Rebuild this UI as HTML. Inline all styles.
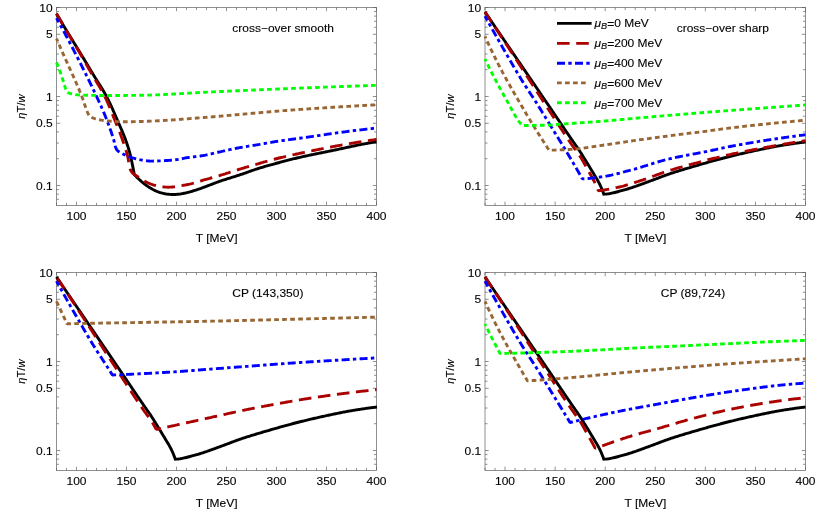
<!DOCTYPE html>
<html><head><meta charset="utf-8"><title>chart</title>
<style>html,body{margin:0;padding:0;background:#fff;font-family:"Liberation Sans",sans-serif;}svg{display:block;will-change:transform;} text{font-family:"Liberation Sans",sans-serif;stroke:#000;stroke-width:0.12px;}</style></head>
<body>
<svg width="830" height="514" viewBox="0 0 830 514" font-family="Liberation Sans, sans-serif" font-size="12.00" fill="#000">
<rect width="830" height="514" fill="#fff"/>
<clipPath id="c1"><rect x="54.50" y="5.50" width="324.00" height="201.90"/></clipPath>
<path d="M56.50 205.40v-2.50M56.50 7.50v2.50M66.50 205.40v-2.50M66.50 7.50v2.50M76.50 205.40v-3.70M76.50 7.50v3.70M86.50 205.40v-2.50M86.50 7.50v2.50M96.50 205.40v-2.50M96.50 7.50v2.50M106.50 205.40v-2.50M106.50 7.50v2.50M116.50 205.40v-2.50M116.50 7.50v2.50M126.50 205.40v-3.70M126.50 7.50v3.70M136.50 205.40v-2.50M136.50 7.50v2.50M146.50 205.40v-2.50M146.50 7.50v2.50M156.50 205.40v-2.50M156.50 7.50v2.50M166.50 205.40v-2.50M166.50 7.50v2.50M176.50 205.40v-3.70M176.50 7.50v3.70M186.50 205.40v-2.50M186.50 7.50v2.50M196.50 205.40v-2.50M196.50 7.50v2.50M206.50 205.40v-2.50M206.50 7.50v2.50M216.50 205.40v-2.50M216.50 7.50v2.50M226.50 205.40v-3.70M226.50 7.50v3.70M236.50 205.40v-2.50M236.50 7.50v2.50M246.50 205.40v-2.50M246.50 7.50v2.50M256.50 205.40v-2.50M256.50 7.50v2.50M266.50 205.40v-2.50M266.50 7.50v2.50M276.50 205.40v-3.70M276.50 7.50v3.70M286.50 205.40v-2.50M286.50 7.50v2.50M296.50 205.40v-2.50M296.50 7.50v2.50M306.50 205.40v-2.50M306.50 7.50v2.50M316.50 205.40v-2.50M316.50 7.50v2.50M326.50 205.40v-3.70M326.50 7.50v3.70M336.50 205.40v-2.50M336.50 7.50v2.50M346.50 205.40v-2.50M346.50 7.50v2.50M356.50 205.40v-2.50M356.50 7.50v2.50M366.50 205.40v-2.50M366.50 7.50v2.50M376.50 205.40v-3.70M376.50 7.50v3.70M56.50 7.50h3.70M376.50 7.50h-3.70M56.50 11.57h2.50M376.50 11.57h-2.50M56.50 16.12h2.50M376.50 16.12h-2.50M56.50 21.29h2.50M376.50 21.29h-2.50M56.50 27.24h2.50M376.50 27.24h-2.50M56.50 34.29h3.70M376.50 34.29h-3.70M56.50 42.92h2.50M376.50 42.92h-2.50M56.50 54.04h2.50M376.50 54.04h-2.50M56.50 69.71h2.50M376.50 69.71h-2.50M56.50 96.50h3.70M376.50 96.50h-3.70M56.50 100.57h2.50M376.50 100.57h-2.50M56.50 105.12h2.50M376.50 105.12h-2.50M56.50 110.29h2.50M376.50 110.29h-2.50M56.50 116.24h2.50M376.50 116.24h-2.50M56.50 123.29h3.70M376.50 123.29h-3.70M56.50 131.92h2.50M376.50 131.92h-2.50M56.50 143.04h2.50M376.50 143.04h-2.50M56.50 158.71h2.50M376.50 158.71h-2.50M56.50 185.50h3.70M376.50 185.50h-3.70M56.50 189.57h2.50M376.50 189.57h-2.50M56.50 194.12h2.50M376.50 194.12h-2.50M56.50 199.29h2.50M376.50 199.29h-2.50" stroke="#606060" stroke-width="0.7" fill="none"/>
<rect x="56.50" y="7.50" width="320.00" height="197.90" fill="none" stroke="#606060" stroke-width="0.7"/>
<text transform="translate(76.50 220.00) scale(1 0.930)" text-anchor="middle">100</text>
<text transform="translate(126.50 220.00) scale(1 0.930)" text-anchor="middle">150</text>
<text transform="translate(176.50 220.00) scale(1 0.930)" text-anchor="middle">200</text>
<text transform="translate(226.50 220.00) scale(1 0.930)" text-anchor="middle">250</text>
<text transform="translate(276.50 220.00) scale(1 0.930)" text-anchor="middle">300</text>
<text transform="translate(326.50 220.00) scale(1 0.930)" text-anchor="middle">350</text>
<text transform="translate(376.50 220.00) scale(1 0.930)" text-anchor="middle">400</text>
<text transform="translate(52.65 11.50) scale(1 0.930)" text-anchor="end">10</text>
<text transform="translate(52.65 38.29) scale(1 0.930)" text-anchor="end">5</text>
<text transform="translate(52.65 100.50) scale(1 0.930)" text-anchor="end">1</text>
<text transform="translate(52.65 127.29) scale(1 0.930)" text-anchor="end">0.5</text>
<text transform="translate(52.65 189.50) scale(1 0.930)" text-anchor="end">0.1</text>
<text transform="translate(216.70 241.50) scale(1 0.930)" text-anchor="middle">T [MeV]</text>
<text transform="translate(25.40 106.65) rotate(-90)" text-anchor="middle" font-size="11.2"><tspan font-style="italic">η</tspan>T/<tspan font-style="italic">w</tspan></text>
<g clip-path="url(#c1)">
<path d="M56.50 13.80 L57.01 14.67 L57.52 15.53 L58.03 16.40 L58.54 17.26 L59.05 18.13 L59.56 18.99 L60.07 19.86 L60.58 20.72 L61.10 21.58 L61.61 22.45 L62.13 23.31 L62.64 24.17 L63.16 25.03 L63.67 25.90 L64.19 26.76 L64.71 27.62 L65.22 28.48 L65.74 29.34 L66.26 30.20 L66.79 31.06 L67.31 31.91 L67.83 32.77 L68.35 33.63 L68.88 34.48 L69.41 35.34 L69.93 36.20 L70.46 37.05 L70.99 37.91 L71.51 38.76 L72.04 39.61 L72.57 40.47 L73.10 41.32 L73.63 42.18 L74.16 43.03 L74.68 43.89 L75.21 44.74 L75.74 45.59 L76.27 46.45 L76.80 47.30 L77.32 48.16 L77.85 49.02 L78.37 49.87 L78.90 50.73 L79.42 51.59 L79.94 52.44 L80.47 53.30 L80.99 54.16 L81.51 55.02 L82.03 55.88 L82.55 56.74 L83.06 57.60 L83.58 58.46 L84.10 59.32 L84.62 60.18 L85.14 61.04 L85.65 61.90 L86.17 62.76 L86.69 63.62 L87.20 64.49 L87.72 65.35 L88.24 66.21 L88.75 67.07 L89.27 67.93 L89.79 68.79 L90.30 69.65 L90.82 70.51 L91.34 71.38 L91.86 72.24 L92.37 73.10 L92.89 73.96 L93.41 74.82 L93.94 75.67 L94.46 76.53 L94.99 77.39 L95.53 78.24 L96.06 79.09 L96.60 79.94 L97.14 80.79 L97.67 81.65 L98.21 82.50 L98.75 83.35 L99.29 84.20 L99.82 85.05 L100.36 85.90 L100.89 86.76 L101.42 87.61 L101.94 88.47 L102.46 89.33 L102.98 90.19 L103.49 91.05 L104.00 91.92 L104.50 92.79 L104.99 93.66 L105.48 94.53 L105.96 95.41 L106.43 96.29 L106.90 97.18 L107.35 98.07 L107.81 98.96 L108.25 99.86 L108.70 100.76 L109.13 101.66 L109.57 102.56 L110.00 103.47 L110.42 104.38 L110.84 105.29 L111.26 106.21 L111.68 107.12 L112.09 108.04 L112.50 108.96 L112.91 109.88 L113.31 110.80 L113.71 111.72 L114.12 112.65 L114.52 113.57 L114.92 114.49 L115.32 115.42 L115.72 116.34 L116.12 117.26 L116.52 118.19 L116.92 119.11 L117.32 120.03 L117.72 120.95 L118.12 121.87 L118.53 122.79 L118.93 123.71 L119.34 124.63 L119.74 125.55 L120.14 126.47 L120.54 127.40 L120.95 128.32 L121.34 129.24 L121.74 130.17 L122.13 131.10 L122.52 132.02 L122.91 132.95 L123.29 133.88 L123.67 134.81 L124.04 135.74 L124.41 136.68 L124.77 137.61 L125.13 138.55 L125.47 139.49 L125.82 140.43 L126.15 141.38 L126.48 142.32 L126.80 143.27 L127.12 144.22 L127.44 145.18 L127.75 146.13 L128.06 147.09 L128.36 148.05 L128.65 149.01 L128.94 149.98 L129.22 150.95 L129.49 151.91 L129.75 152.88 L130.01 153.85 L130.26 154.82 L130.49 155.80 L130.73 156.77 L130.95 157.75 L131.17 158.73 L131.38 159.71 L131.59 160.70 L131.79 161.68 L132.00 162.66 L132.20 163.65 L132.39 164.64 L132.59 165.62 L132.78 166.61 L132.98 167.59 L133.18 168.58 L133.37 169.56 L133.56 170.55 L133.75 171.54 L133.93 172.52 L134.12 173.51 L134.30 174.50 L134.98 175.24 L135.67 175.96 L136.37 176.69 L137.07 177.40 L137.78 178.11 L138.50 178.80 L139.23 179.49 L139.96 180.17 L140.71 180.85 L141.46 181.51 L142.22 182.16 L142.99 182.81 L143.77 183.44 L144.56 184.06 L145.35 184.67 L146.16 185.26 L146.98 185.84 L147.81 186.40 L148.64 186.96 L149.49 187.50 L150.35 188.03 L151.21 188.53 L152.08 189.02 L152.96 189.51 L153.85 189.97 L154.75 190.42 L155.66 190.84 L156.58 191.23 L157.51 191.60 L158.45 191.94 L159.40 192.27 L160.36 192.58 L161.32 192.85 L162.29 193.11 L163.26 193.36 L164.24 193.59 L165.23 193.80 L166.21 193.96 L167.20 194.09 L168.20 194.20 L169.20 194.31 L170.20 194.39 L171.20 194.46 L172.20 194.50 L173.20 194.50 L174.21 194.48 L175.21 194.44 L176.21 194.38 L177.21 194.31 L178.21 194.23 L179.21 194.13 L180.20 194.00 L181.19 193.84 L182.18 193.66 L183.16 193.47 L184.15 193.27 L185.13 193.07 L186.10 192.85 L187.08 192.61 L188.05 192.36 L189.02 192.10 L189.99 191.83 L190.95 191.56 L191.91 191.28 L192.88 191.00 L193.83 190.71 L194.79 190.41 L195.75 190.11 L196.70 189.80 L197.65 189.48 L198.60 189.16 L199.55 188.84 L200.50 188.51 L201.44 188.17 L202.38 187.83 L203.32 187.48 L204.26 187.13 L205.20 186.78 L206.14 186.43 L207.08 186.08 L208.02 185.73 L208.96 185.37 L209.89 185.01 L210.83 184.65 L211.76 184.29 L212.70 183.92 L213.63 183.56 L214.57 183.20 L215.50 182.84 L216.44 182.49 L217.38 182.14 L218.32 181.80 L219.26 181.46 L220.21 181.13 L221.16 180.80 L222.11 180.49 L223.06 180.17 L224.01 179.86 L224.97 179.56 L225.92 179.26 L226.88 178.96 L227.84 178.66 L228.80 178.37 L229.75 178.07 L230.71 177.78 L231.67 177.48 L232.63 177.19 L233.59 176.89 L234.55 176.60 L235.50 176.30 L236.46 175.99 L237.41 175.69 L238.37 175.38 L239.32 175.06 L240.27 174.74 L241.22 174.42 L242.16 174.09 L243.11 173.76 L244.06 173.43 L245.00 173.09 L245.95 172.76 L246.89 172.42 L247.84 172.08 L248.78 171.74 L249.72 171.41 L250.67 171.07 L251.62 170.74 L252.56 170.41 L253.51 170.08 L254.46 169.75 L255.41 169.43 L256.36 169.12 L257.31 168.81 L258.26 168.50 L259.22 168.20 L260.17 167.91 L261.13 167.61 L262.09 167.32 L263.05 167.04 L264.01 166.75 L264.97 166.47 L265.94 166.19 L266.90 165.92 L267.87 165.64 L268.83 165.37 L269.80 165.10 L270.76 164.83 L271.73 164.57 L272.70 164.30 L273.67 164.04 L274.63 163.78 L275.60 163.52 L276.57 163.26 L277.54 163.00 L278.51 162.74 L279.47 162.48 L280.44 162.22 L281.41 161.97 L282.38 161.71 L283.35 161.45 L284.32 161.20 L285.29 160.94 L286.26 160.69 L287.23 160.44 L288.20 160.18 L289.17 159.93 L290.14 159.69 L291.11 159.44 L292.09 159.20 L293.06 158.95 L294.03 158.71 L295.01 158.48 L295.98 158.24 L296.96 158.01 L297.93 157.78 L298.91 157.55 L299.88 157.33 L300.86 157.11 L301.84 156.89 L302.81 156.67 L303.79 156.45 L304.77 156.24 L305.75 156.02 L306.73 155.81 L307.71 155.60 L308.69 155.39 L309.67 155.19 L310.65 154.98 L311.63 154.78 L312.61 154.57 L313.59 154.37 L314.57 154.17 L315.56 153.96 L316.54 153.76 L317.52 153.56 L318.50 153.36 L319.49 153.16 L320.47 152.96 L321.45 152.77 L322.43 152.57 L323.42 152.37 L324.40 152.17 L325.38 151.97 L326.37 151.77 L327.35 151.57 L328.33 151.38 L329.31 151.18 L330.30 150.98 L331.28 150.78 L332.26 150.58 L333.24 150.38 L334.23 150.17 L335.21 149.97 L336.19 149.77 L337.17 149.56 L338.15 149.36 L339.13 149.15 L340.11 148.94 L341.09 148.73 L342.07 148.52 L343.05 148.31 L344.03 148.09 L345.01 147.88 L345.99 147.66 L346.97 147.45 L347.95 147.23 L348.93 147.02 L349.91 146.80 L350.89 146.59 L351.87 146.38 L352.85 146.17 L353.83 145.96 L354.81 145.75 L355.79 145.55 L356.77 145.34 L357.75 145.14 L358.74 144.95 L359.72 144.75 L360.70 144.56 L361.69 144.38 L362.67 144.19 L363.66 144.00 L364.64 143.82 L365.63 143.64 L366.61 143.46 L367.60 143.28 L368.59 143.11 L369.58 142.94 L370.56 142.77 L371.55 142.60 L372.54 142.43 L373.53 142.27 L374.52 142.11 L375.51 141.95 L376.50 141.80" fill="none" stroke="#000000" stroke-width="2.90" stroke-linejoin="miter"/>
<path d="M56.50 13.50 L57.00 14.37 L57.50 15.24 L58.00 16.11 L58.50 16.97 L59.00 17.84 L59.50 18.71 L60.00 19.58 L60.51 20.44 L61.01 21.31 L61.51 22.18 L62.02 23.04 L62.52 23.91 L63.03 24.77 L63.53 25.64 L64.04 26.50 L64.54 27.37 L65.05 28.23 L65.56 29.10 L66.07 29.96 L66.58 30.82 L67.09 31.69 L67.60 32.55 L68.11 33.41 L68.62 34.27 L69.14 35.13 L69.65 35.99 L70.17 36.85 L70.68 37.71 L71.20 38.57 L71.71 39.43 L72.23 40.28 L72.75 41.14 L73.26 42.00 L73.78 42.86 L74.29 43.72 L74.81 44.58 L75.32 45.44 L75.84 46.30 L76.35 47.16 L76.86 48.02 L77.37 48.89 L77.88 49.75 L78.39 50.61 L78.90 51.47 L79.41 52.34 L79.91 53.20 L80.41 54.07 L80.92 54.94 L81.42 55.80 L81.92 56.67 L82.42 57.54 L82.92 58.41 L83.42 59.28 L83.92 60.15 L84.41 61.02 L84.91 61.89 L85.41 62.76 L85.90 63.63 L86.40 64.50 L86.90 65.37 L87.39 66.24 L87.89 67.11 L88.38 67.98 L88.88 68.85 L89.38 69.72 L89.87 70.59 L90.37 71.46 L90.87 72.33 L91.37 73.20 L91.87 74.07 L92.37 74.94 L92.87 75.80 L93.38 76.67 L93.90 77.53 L94.41 78.39 L94.93 79.25 L95.45 80.11 L95.98 80.97 L96.50 81.83 L97.02 82.69 L97.54 83.54 L98.06 84.40 L98.58 85.26 L99.10 86.12 L99.61 86.99 L100.12 87.85 L100.63 88.72 L101.13 89.58 L101.63 90.45 L102.12 91.32 L102.61 92.20 L103.08 93.08 L103.55 93.96 L104.02 94.84 L104.47 95.73 L104.91 96.62 L105.35 97.52 L105.78 98.42 L106.20 99.32 L106.61 100.23 L107.02 101.14 L107.43 102.06 L107.82 102.98 L108.22 103.90 L108.61 104.82 L109.00 105.75 L109.38 106.67 L109.76 107.60 L110.14 108.53 L110.52 109.47 L110.89 110.40 L111.26 111.33 L111.64 112.26 L112.01 113.20 L112.38 114.13 L112.75 115.06 L113.13 115.99 L113.50 116.92 L113.88 117.85 L114.26 118.78 L114.64 119.71 L115.02 120.63 L115.40 121.56 L115.78 122.49 L116.16 123.42 L116.54 124.34 L116.93 125.27 L117.31 126.20 L117.68 127.13 L118.06 128.06 L118.43 128.99 L118.80 129.92 L119.17 130.85 L119.53 131.79 L119.89 132.72 L120.25 133.66 L120.60 134.59 L120.94 135.53 L121.28 136.47 L121.62 137.42 L121.95 138.36 L122.29 139.31 L122.63 140.25 L122.96 141.20 L123.29 142.14 L123.63 143.09 L123.95 144.04 L124.28 144.99 L124.60 145.95 L124.92 146.90 L125.23 147.85 L125.54 148.81 L125.83 149.77 L126.13 150.73 L126.41 151.69 L126.69 152.65 L126.96 153.61 L127.22 154.58 L127.46 155.54 L127.70 156.51 L127.92 157.49 L128.12 158.48 L128.29 159.48 L128.46 160.49 L128.61 161.50 L128.77 162.50 L128.92 163.51 L129.09 164.51 L129.27 165.50 L129.46 166.47 L129.69 167.43 L129.94 168.37 L130.23 169.29 L130.61 170.20 L131.10 171.11 L131.67 171.97 L132.29 172.76 L132.95 173.44 L133.74 174.04 L134.60 174.60 L135.47 175.15 L136.31 175.71 L137.13 176.28 L137.96 176.86 L138.78 177.44 L139.61 178.02 L140.44 178.59 L141.28 179.15 L142.12 179.69 L142.97 180.22 L143.83 180.72 L144.71 181.20 L145.59 181.64 L146.48 182.08 L147.39 182.52 L148.31 182.95 L149.23 183.36 L150.17 183.76 L151.11 184.13 L152.06 184.47 L153.01 184.78 L153.96 185.05 L154.92 185.27 L155.89 185.49 L156.86 185.70 L157.84 185.91 L158.83 186.11 L159.82 186.30 L160.82 186.48 L161.82 186.64 L162.82 186.79 L163.82 186.92 L164.83 187.03 L165.83 187.11 L166.82 187.17 L167.82 187.20 L168.81 187.20 L169.81 187.17 L170.80 187.12 L171.80 187.05 L172.80 186.97 L173.79 186.87 L174.79 186.75 L175.79 186.62 L176.78 186.47 L177.78 186.32 L178.78 186.15 L179.77 185.98 L180.77 185.80 L181.76 185.62 L182.75 185.44 L183.74 185.25 L184.72 185.07 L185.71 184.88 L186.69 184.70 L187.67 184.52 L188.64 184.31 L189.61 184.10 L190.59 183.87 L191.56 183.62 L192.52 183.37 L193.49 183.10 L194.45 182.83 L195.42 182.55 L196.38 182.26 L197.34 181.97 L198.31 181.68 L199.27 181.38 L200.23 181.09 L201.19 180.79 L202.15 180.49 L203.11 180.20 L204.07 179.91 L205.04 179.63 L206.00 179.36 L206.97 179.09 L207.93 178.82 L208.90 178.55 L209.86 178.28 L210.83 178.01 L211.79 177.75 L212.76 177.48 L213.73 177.21 L214.69 176.94 L215.65 176.66 L216.62 176.39 L217.58 176.11 L218.54 175.83 L219.50 175.55 L220.46 175.26 L221.42 174.97 L222.38 174.68 L223.34 174.38 L224.29 174.08 L225.25 173.78 L226.20 173.47 L227.15 173.16 L228.11 172.85 L229.06 172.54 L230.01 172.23 L230.97 171.92 L231.92 171.61 L232.87 171.31 L233.83 171.00 L234.78 170.69 L235.74 170.39 L236.69 170.09 L237.65 169.79 L238.61 169.49 L239.56 169.20 L240.52 168.91 L241.48 168.61 L242.44 168.32 L243.40 168.03 L244.36 167.75 L245.32 167.46 L246.28 167.17 L247.24 166.89 L248.20 166.60 L249.16 166.32 L250.12 166.03 L251.08 165.75 L252.05 165.47 L253.01 165.19 L253.97 164.91 L254.93 164.63 L255.90 164.36 L256.86 164.08 L257.82 163.81 L258.79 163.53 L259.75 163.26 L260.71 162.98 L261.68 162.71 L262.64 162.44 L263.61 162.16 L264.57 161.89 L265.54 161.62 L266.50 161.35 L267.47 161.08 L268.43 160.81 L269.40 160.54 L270.36 160.27 L271.33 160.01 L272.30 159.75 L273.27 159.49 L274.24 159.24 L275.21 158.98 L276.18 158.73 L277.15 158.49 L278.12 158.25 L279.09 158.01 L280.06 157.77 L281.04 157.53 L282.01 157.30 L282.99 157.07 L283.96 156.84 L284.94 156.62 L285.91 156.39 L286.89 156.17 L287.87 155.95 L288.85 155.73 L289.83 155.51 L290.80 155.29 L291.78 155.08 L292.76 154.86 L293.74 154.65 L294.72 154.44 L295.70 154.22 L296.68 154.01 L297.66 153.80 L298.64 153.59 L299.62 153.38 L300.60 153.17 L301.58 152.96 L302.56 152.75 L303.54 152.55 L304.52 152.34 L305.50 152.13 L306.48 151.93 L307.46 151.72 L308.44 151.51 L309.42 151.31 L310.40 151.10 L311.38 150.90 L312.37 150.70 L313.35 150.49 L314.33 150.29 L315.31 150.09 L316.29 149.89 L317.27 149.69 L318.26 149.49 L319.24 149.29 L320.22 149.09 L321.20 148.90 L322.19 148.70 L323.17 148.51 L324.15 148.31 L325.14 148.12 L326.12 147.92 L327.10 147.73 L328.09 147.54 L329.07 147.35 L330.05 147.16 L331.04 146.97 L332.02 146.78 L333.01 146.60 L333.99 146.41 L334.98 146.23 L335.96 146.04 L336.95 145.86 L337.93 145.68 L338.92 145.50 L339.90 145.32 L340.89 145.14 L341.87 144.96 L342.86 144.79 L343.85 144.61 L344.83 144.44 L345.82 144.26 L346.81 144.09 L347.80 143.92 L348.78 143.75 L349.77 143.59 L350.76 143.42 L351.75 143.25 L352.74 143.09 L353.72 142.92 L354.71 142.76 L355.70 142.60 L356.69 142.43 L357.68 142.27 L358.67 142.11 L359.66 141.95 L360.65 141.80 L361.64 141.64 L362.63 141.48 L363.62 141.33 L364.61 141.17 L365.60 141.02 L366.59 140.87 L367.58 140.72 L368.57 140.57 L369.56 140.42 L370.55 140.27 L371.54 140.12 L372.53 139.98 L373.52 139.83 L374.52 139.69 L375.51 139.54 L376.50 139.40" fill="none" stroke="#aa0000" stroke-width="2.90" stroke-linejoin="bevel" stroke-dasharray="12.6 6.6"/>
<path d="M56.50 18.10 L56.99 18.98 L57.47 19.85 L57.95 20.73 L58.44 21.61 L58.92 22.49 L59.40 23.37 L59.89 24.25 L60.37 25.13 L60.85 26.01 L61.33 26.89 L61.81 27.77 L62.28 28.65 L62.76 29.53 L63.24 30.41 L63.72 31.29 L64.19 32.17 L64.67 33.06 L65.14 33.94 L65.62 34.82 L66.09 35.71 L66.56 36.59 L67.03 37.47 L67.50 38.36 L67.97 39.24 L68.44 40.13 L68.91 41.02 L69.38 41.90 L69.85 42.79 L70.31 43.68 L70.78 44.56 L71.24 45.45 L71.70 46.34 L72.17 47.23 L72.63 48.12 L73.09 49.01 L73.55 49.90 L74.01 50.79 L74.46 51.68 L74.92 52.57 L75.38 53.46 L75.84 54.35 L76.30 55.24 L76.75 56.14 L77.21 57.03 L77.67 57.92 L78.12 58.81 L78.58 59.71 L79.03 60.60 L79.49 61.49 L79.94 62.39 L80.40 63.28 L80.85 64.17 L81.30 65.07 L81.75 65.96 L82.21 66.86 L82.66 67.75 L83.11 68.65 L83.56 69.55 L84.00 70.44 L84.45 71.34 L84.90 72.24 L85.35 73.14 L85.79 74.03 L86.24 74.93 L86.68 75.83 L87.13 76.73 L87.57 77.63 L88.01 78.53 L88.45 79.43 L88.89 80.33 L89.33 81.23 L89.77 82.13 L90.21 83.03 L90.65 83.94 L91.08 84.84 L91.52 85.74 L91.95 86.64 L92.38 87.55 L92.82 88.45 L93.25 89.36 L93.68 90.26 L94.10 91.17 L94.53 92.07 L94.96 92.98 L95.38 93.89 L95.81 94.80 L96.23 95.70 L96.65 96.61 L97.07 97.52 L97.49 98.43 L97.91 99.34 L98.33 100.25 L98.75 101.16 L99.17 102.07 L99.59 102.98 L100.00 103.90 L100.42 104.81 L100.83 105.72 L101.25 106.64 L101.66 107.55 L102.06 108.47 L102.47 109.39 L102.87 110.31 L103.27 111.23 L103.66 112.15 L104.05 113.07 L104.43 114.00 L104.81 114.92 L105.19 115.85 L105.56 116.78 L105.92 117.71 L106.28 118.65 L106.65 119.58 L107.01 120.51 L107.37 121.45 L107.72 122.39 L108.08 123.33 L108.43 124.27 L108.78 125.21 L109.13 126.15 L109.47 127.09 L109.82 128.04 L110.15 128.98 L110.49 129.93 L110.82 130.88 L111.15 131.83 L111.47 132.78 L111.78 133.73 L112.10 134.68 L112.40 135.64 L112.71 136.59 L113.00 137.55 L113.29 138.51 L113.58 139.47 L113.85 140.43 L114.12 141.39 L114.37 142.36 L114.59 143.35 L114.80 144.33 L115.02 145.31 L115.27 146.28 L115.58 147.22 L115.94 148.18 L116.38 149.11 L116.89 149.95 L117.52 150.66 L118.31 151.30 L119.17 151.88 L120.01 152.42 L120.87 152.92 L121.76 153.39 L122.66 153.84 L123.57 154.27 L124.49 154.68 L125.40 155.09 L126.32 155.49 L127.24 155.89 L128.18 156.27 L129.11 156.64 L130.05 156.99 L131.00 157.33 L131.95 157.65 L132.90 157.94 L133.86 158.22 L134.82 158.48 L135.79 158.73 L136.77 158.98 L137.75 159.21 L138.73 159.42 L139.71 159.63 L140.70 159.81 L141.69 159.98 L142.67 160.14 L143.66 160.31 L144.65 160.48 L145.65 160.64 L146.64 160.79 L147.64 160.91 L148.64 161.01 L149.64 161.07 L150.64 161.10 L151.63 161.10 L152.63 161.09 L153.64 161.07 L154.64 161.05 L155.64 161.02 L156.65 160.99 L157.65 160.96 L158.65 160.92 L159.65 160.89 L160.65 160.85 L161.65 160.81 L162.66 160.76 L163.66 160.70 L164.66 160.64 L165.66 160.57 L166.66 160.51 L167.66 160.44 L168.66 160.37 L169.66 160.30 L170.66 160.22 L171.66 160.14 L172.66 160.06 L173.66 159.97 L174.66 159.87 L175.65 159.77 L176.65 159.65 L177.64 159.53 L178.63 159.39 L179.61 159.22 L180.59 159.01 L181.57 158.79 L182.55 158.56 L183.53 158.34 L184.51 158.12 L185.49 157.94 L186.48 157.77 L187.47 157.62 L188.46 157.47 L189.46 157.33 L190.45 157.20 L191.44 157.08 L192.44 156.95 L193.44 156.83 L194.43 156.71 L195.43 156.59 L196.42 156.47 L197.42 156.35 L198.41 156.22 L199.41 156.09 L200.40 155.95 L201.39 155.80 L202.38 155.65 L203.37 155.49 L204.35 155.31 L205.33 155.13 L206.32 154.94 L207.30 154.73 L208.28 154.52 L209.25 154.30 L210.23 154.08 L211.21 153.85 L212.18 153.62 L213.16 153.39 L214.14 153.16 L215.11 152.92 L216.09 152.69 L217.07 152.46 L218.04 152.24 L219.02 152.02 L220.00 151.80 L220.98 151.59 L221.96 151.37 L222.94 151.16 L223.92 150.94 L224.90 150.73 L225.87 150.51 L226.85 150.29 L227.83 150.08 L228.81 149.87 L229.79 149.65 L230.77 149.44 L231.75 149.23 L232.73 149.03 L233.71 148.82 L234.70 148.62 L235.68 148.42 L236.66 148.23 L237.64 148.04 L238.63 147.85 L239.61 147.67 L240.60 147.49 L241.59 147.32 L242.57 147.15 L243.56 146.98 L244.55 146.81 L245.54 146.65 L246.53 146.49 L247.52 146.33 L248.51 146.17 L249.50 146.01 L250.49 145.86 L251.48 145.70 L252.47 145.55 L253.46 145.39 L254.45 145.23 L255.44 145.07 L256.43 144.91 L257.42 144.75 L258.40 144.58 L259.39 144.42 L260.38 144.25 L261.37 144.07 L262.35 143.90 L263.34 143.72 L264.33 143.55 L265.31 143.37 L266.30 143.19 L267.29 143.01 L268.27 142.83 L269.26 142.66 L270.25 142.48 L271.23 142.31 L272.22 142.13 L273.21 141.96 L274.20 141.80 L275.19 141.63 L276.17 141.47 L277.16 141.31 L278.15 141.16 L279.14 141.01 L280.13 140.87 L281.13 140.72 L282.12 140.58 L283.11 140.44 L284.10 140.31 L285.10 140.17 L286.09 140.04 L287.08 139.91 L288.08 139.78 L289.07 139.65 L290.07 139.52 L291.06 139.39 L292.05 139.26 L293.05 139.13 L294.04 139.00 L295.04 138.87 L296.03 138.74 L297.02 138.61 L298.02 138.47 L299.01 138.34 L300.00 138.20 L300.99 138.06 L301.99 137.92 L302.98 137.78 L303.97 137.64 L304.96 137.50 L305.96 137.36 L306.95 137.21 L307.94 137.07 L308.93 136.92 L309.92 136.78 L310.91 136.63 L311.91 136.49 L312.90 136.34 L313.89 136.20 L314.88 136.05 L315.87 135.91 L316.86 135.76 L317.86 135.61 L318.85 135.47 L319.84 135.32 L320.83 135.17 L321.82 135.03 L322.81 134.88 L323.80 134.74 L324.80 134.59 L325.79 134.45 L326.78 134.30 L327.77 134.16 L328.76 134.02 L329.76 133.87 L330.75 133.73 L331.74 133.59 L332.73 133.45 L333.72 133.31 L334.72 133.17 L335.71 133.04 L336.70 132.90 L337.70 132.76 L338.69 132.63 L339.68 132.49 L340.67 132.36 L341.67 132.23 L342.66 132.10 L343.66 131.96 L344.65 131.83 L345.64 131.70 L346.64 131.57 L347.63 131.44 L348.62 131.31 L349.62 131.18 L350.61 131.06 L351.61 130.93 L352.60 130.80 L353.59 130.68 L354.59 130.55 L355.58 130.43 L356.58 130.31 L357.57 130.19 L358.57 130.07 L359.56 129.95 L360.56 129.83 L361.55 129.72 L362.55 129.60 L363.55 129.49 L364.54 129.38 L365.54 129.27 L366.53 129.15 L367.53 129.04 L368.53 128.94 L369.52 128.83 L370.52 128.72 L371.52 128.62 L372.51 128.51 L373.51 128.41 L374.51 128.30 L375.50 128.20 L376.50 128.10" fill="none" stroke="#0000ff" stroke-width="2.90" stroke-linejoin="bevel" stroke-dasharray="8 3.3 3.4 3.3" stroke-dashoffset="3.2"/>
<path d="M56.50 38.60 L56.90 39.52 L57.30 40.44 L57.70 41.36 L58.10 42.27 L58.50 43.19 L58.90 44.11 L59.30 45.03 L59.70 45.95 L60.10 46.86 L60.50 47.78 L60.90 48.70 L61.30 49.62 L61.70 50.54 L62.10 51.46 L62.50 52.37 L62.90 53.29 L63.31 54.21 L63.72 55.12 L64.12 56.04 L64.53 56.95 L64.95 57.87 L65.36 58.78 L65.77 59.69 L66.18 60.61 L66.60 61.52 L67.01 62.43 L67.43 63.35 L67.84 64.26 L68.26 65.17 L68.68 66.08 L69.09 67.00 L69.51 67.91 L69.93 68.82 L70.34 69.73 L70.76 70.65 L71.17 71.56 L71.59 72.47 L72.00 73.38 L72.41 74.30 L72.83 75.21 L73.24 76.13 L73.65 77.04 L74.06 77.96 L74.46 78.87 L74.87 79.79 L75.27 80.70 L75.68 81.62 L76.08 82.54 L76.48 83.46 L76.87 84.38 L77.27 85.30 L77.66 86.22 L78.05 87.14 L78.44 88.06 L78.82 88.99 L79.20 89.91 L79.58 90.84 L79.96 91.76 L80.33 92.69 L80.70 93.62 L81.07 94.55 L81.44 95.48 L81.80 96.41 L82.15 97.35 L82.51 98.28 L82.85 99.22 L83.18 100.17 L83.50 101.12 L83.82 102.07 L84.14 103.02 L84.47 103.96 L84.80 104.91 L85.13 105.85 L85.46 106.81 L85.78 107.76 L86.10 108.72 L86.43 109.67 L86.78 110.61 L87.15 111.54 L87.54 112.45 L87.97 113.35 L88.44 114.26 L88.97 115.13 L89.57 115.88 L90.32 116.52 L91.19 117.09 L92.09 117.55 L92.98 117.92 L93.91 118.26 L94.85 118.57 L95.82 118.86 L96.80 119.13 L97.79 119.37 L98.78 119.60 L99.78 119.80 L100.77 119.99 L101.75 120.16 L102.73 120.32 L103.72 120.48 L104.72 120.62 L105.71 120.75 L106.71 120.87 L107.71 120.98 L108.71 121.06 L109.70 121.14 L110.70 121.20 L111.70 121.27 L112.70 121.34 L113.70 121.40 L114.70 121.46 L115.70 121.52 L116.70 121.57 L117.70 121.62 L118.70 121.66 L119.70 121.70 L120.71 121.74 L121.71 121.76 L122.71 121.78 L123.71 121.80 L124.71 121.80 L125.71 121.80 L126.71 121.79 L127.72 121.78 L128.72 121.77 L129.72 121.76 L130.72 121.74 L131.72 121.72 L132.72 121.70 L133.73 121.67 L134.73 121.65 L135.73 121.62 L136.73 121.60 L137.73 121.57 L138.73 121.54 L139.73 121.51 L140.73 121.49 L141.74 121.46 L142.74 121.43 L143.74 121.40 L144.74 121.37 L145.74 121.33 L146.74 121.29 L147.74 121.26 L148.74 121.22 L149.74 121.17 L150.75 121.13 L151.75 121.09 L152.75 121.04 L153.75 121.00 L154.75 120.95 L155.75 120.90 L156.75 120.86 L157.75 120.81 L158.75 120.76 L159.75 120.71 L160.75 120.65 L161.75 120.60 L162.75 120.54 L163.75 120.48 L164.75 120.42 L165.75 120.36 L166.75 120.30 L167.75 120.23 L168.74 120.17 L169.74 120.10 L170.74 120.04 L171.74 119.97 L172.74 119.90 L173.74 119.83 L174.74 119.75 L175.74 119.68 L176.74 119.61 L177.74 119.53 L178.74 119.46 L179.73 119.38 L180.73 119.31 L181.73 119.23 L182.73 119.15 L183.73 119.07 L184.73 119.00 L185.73 118.92 L186.73 118.84 L187.73 118.76 L188.72 118.68 L189.72 118.60 L190.72 118.52 L191.72 118.45 L192.72 118.37 L193.72 118.29 L194.72 118.21 L195.71 118.13 L196.71 118.05 L197.71 117.98 L198.71 117.90 L199.71 117.82 L200.71 117.75 L201.71 117.67 L202.70 117.59 L203.70 117.51 L204.70 117.44 L205.70 117.36 L206.70 117.28 L207.70 117.20 L208.70 117.12 L209.69 117.04 L210.69 116.95 L211.69 116.87 L212.69 116.79 L213.69 116.71 L214.68 116.63 L215.68 116.54 L216.68 116.46 L217.68 116.37 L218.68 116.29 L219.68 116.20 L220.67 116.12 L221.67 116.03 L222.67 115.95 L223.67 115.86 L224.67 115.78 L225.66 115.69 L226.66 115.60 L227.66 115.52 L228.66 115.43 L229.65 115.34 L230.65 115.25 L231.65 115.17 L232.65 115.08 L233.65 114.99 L234.64 114.90 L235.64 114.81 L236.64 114.72 L237.64 114.64 L238.63 114.55 L239.63 114.46 L240.63 114.37 L241.63 114.28 L242.63 114.19 L243.62 114.10 L244.62 114.01 L245.62 113.92 L246.62 113.83 L247.61 113.75 L248.61 113.66 L249.61 113.57 L250.61 113.48 L251.61 113.39 L252.60 113.30 L253.60 113.21 L254.60 113.13 L255.60 113.04 L256.59 112.95 L257.59 112.86 L258.59 112.77 L259.59 112.69 L260.59 112.60 L261.58 112.51 L262.58 112.42 L263.58 112.34 L264.58 112.25 L265.57 112.17 L266.57 112.08 L267.57 111.99 L268.57 111.91 L269.57 111.82 L270.56 111.74 L271.56 111.65 L272.56 111.57 L273.56 111.49 L274.56 111.40 L275.56 111.32 L276.55 111.24 L277.55 111.16 L278.55 111.08 L279.55 110.99 L280.55 110.91 L281.54 110.83 L282.54 110.75 L283.54 110.67 L284.54 110.60 L285.54 110.52 L286.54 110.44 L287.53 110.36 L288.53 110.29 L289.53 110.21 L290.53 110.14 L291.53 110.06 L292.53 109.99 L293.53 109.91 L294.53 109.84 L295.52 109.77 L296.52 109.70 L297.52 109.63 L298.52 109.56 L299.52 109.49 L300.52 109.42 L301.52 109.35 L302.52 109.28 L303.52 109.21 L304.51 109.14 L305.51 109.07 L306.51 109.00 L307.51 108.93 L308.51 108.87 L309.51 108.80 L310.51 108.73 L311.51 108.66 L312.51 108.60 L313.51 108.53 L314.51 108.46 L315.51 108.40 L316.51 108.33 L317.50 108.26 L318.50 108.20 L319.50 108.13 L320.50 108.07 L321.50 108.00 L322.50 107.94 L323.50 107.87 L324.50 107.81 L325.50 107.74 L326.50 107.68 L327.50 107.62 L328.50 107.55 L329.50 107.49 L330.50 107.43 L331.50 107.36 L332.50 107.30 L333.50 107.24 L334.50 107.18 L335.50 107.12 L336.50 107.05 L337.50 106.99 L338.50 106.93 L339.50 106.87 L340.50 106.81 L341.49 106.75 L342.49 106.69 L343.49 106.63 L344.49 106.57 L345.49 106.51 L346.49 106.45 L347.49 106.39 L348.49 106.33 L349.49 106.28 L350.49 106.22 L351.49 106.16 L352.49 106.10 L353.49 106.05 L354.49 105.99 L355.49 105.93 L356.49 105.87 L357.49 105.82 L358.49 105.76 L359.49 105.71 L360.49 105.65 L361.50 105.60 L362.50 105.54 L363.50 105.49 L364.50 105.43 L365.50 105.38 L366.50 105.32 L367.50 105.27 L368.50 105.22 L369.50 105.16 L370.50 105.11 L371.50 105.06 L372.50 105.01 L373.50 104.95 L374.50 104.90 L375.50 104.85 L376.50 104.80" fill="none" stroke="#996633" stroke-width="2.90" stroke-linejoin="bevel" stroke-dasharray="4.7 3.3" stroke-dashoffset="1.5"/>
<path d="M56.50 62.40 L56.88 63.33 L57.26 64.25 L57.63 65.18 L58.00 66.11 L58.37 67.05 L58.73 67.98 L59.08 68.92 L59.43 69.85 L59.78 70.79 L60.12 71.73 L60.45 72.68 L60.78 73.62 L61.11 74.57 L61.43 75.52 L61.74 76.47 L62.05 77.42 L62.37 78.37 L62.67 79.32 L62.98 80.28 L63.29 81.23 L63.60 82.18 L63.91 83.13 L64.21 84.09 L64.50 85.06 L64.78 86.02 L65.07 86.98 L65.39 87.93 L65.74 88.86 L66.14 89.79 L66.58 90.72 L67.11 91.56 L67.76 92.28 L68.59 92.90 L69.48 93.28 L70.45 93.54 L71.45 93.75 L72.43 93.95 L73.42 94.15 L74.40 94.34 L75.39 94.53 L76.39 94.69 L77.38 94.83 L78.37 94.93 L79.37 94.99 L80.36 95.03 L81.36 95.07 L82.35 95.10 L83.35 95.13 L84.35 95.16 L85.35 95.19 L86.35 95.22 L87.35 95.24 L88.35 95.27 L89.35 95.29 L90.35 95.31 L91.35 95.33 L92.35 95.35 L93.35 95.37 L94.36 95.39 L95.36 95.40 L96.36 95.42 L97.37 95.43 L98.37 95.44 L99.37 95.45 L100.38 95.46 L101.38 95.47 L102.38 95.48 L103.39 95.49 L104.39 95.49 L105.39 95.49 L106.39 95.50 L107.40 95.50 L108.40 95.50 L109.40 95.50 L110.40 95.50 L111.40 95.50 L112.40 95.50 L113.40 95.49 L114.40 95.49 L115.41 95.49 L116.41 95.48 L117.41 95.48 L118.41 95.48 L119.41 95.47 L120.41 95.47 L121.41 95.46 L122.41 95.45 L123.42 95.45 L124.42 95.44 L125.42 95.43 L126.42 95.42 L127.42 95.42 L128.42 95.41 L129.42 95.40 L130.42 95.39 L131.43 95.38 L132.43 95.37 L133.43 95.36 L134.43 95.36 L135.43 95.35 L136.43 95.34 L137.43 95.33 L138.43 95.32 L139.43 95.31 L140.43 95.30 L141.43 95.28 L142.43 95.27 L143.44 95.25 L144.44 95.23 L145.44 95.21 L146.44 95.19 L147.44 95.17 L148.44 95.14 L149.44 95.11 L150.44 95.08 L151.44 95.05 L152.44 95.02 L153.44 94.99 L154.44 94.95 L155.44 94.91 L156.44 94.87 L157.44 94.83 L158.44 94.79 L159.44 94.75 L160.44 94.71 L161.44 94.66 L162.44 94.61 L163.44 94.57 L164.44 94.52 L165.44 94.47 L166.44 94.42 L167.44 94.37 L168.44 94.32 L169.44 94.26 L170.44 94.21 L171.44 94.15 L172.44 94.10 L173.44 94.04 L174.44 93.99 L175.44 93.93 L176.44 93.87 L177.44 93.82 L178.44 93.76 L179.44 93.70 L180.44 93.64 L181.44 93.58 L182.44 93.52 L183.44 93.46 L184.44 93.40 L185.44 93.34 L186.44 93.28 L187.44 93.23 L188.44 93.17 L189.44 93.11 L190.44 93.05 L191.44 92.99 L192.44 92.93 L193.44 92.87 L194.44 92.81 L195.44 92.76 L196.44 92.70 L197.44 92.64 L198.44 92.59 L199.44 92.53 L200.44 92.48 L201.44 92.42 L202.44 92.37 L203.44 92.32 L204.44 92.27 L205.44 92.22 L206.44 92.17 L207.44 92.12 L208.44 92.07 L209.44 92.03 L210.44 91.98 L211.44 91.94 L212.44 91.89 L213.44 91.84 L214.44 91.80 L215.44 91.75 L216.44 91.71 L217.44 91.66 L218.44 91.62 L219.44 91.57 L220.44 91.53 L221.44 91.48 L222.44 91.44 L223.44 91.39 L224.44 91.35 L225.44 91.30 L226.44 91.26 L227.44 91.21 L228.44 91.17 L229.44 91.12 L230.44 91.08 L231.44 91.04 L232.44 90.99 L233.44 90.95 L234.44 90.90 L235.44 90.86 L236.44 90.81 L237.44 90.77 L238.44 90.72 L239.44 90.68 L240.44 90.63 L241.44 90.59 L242.44 90.55 L243.44 90.50 L244.44 90.46 L245.45 90.41 L246.45 90.37 L247.45 90.33 L248.45 90.28 L249.45 90.24 L250.45 90.19 L251.45 90.15 L252.45 90.11 L253.45 90.06 L254.45 90.02 L255.45 89.98 L256.45 89.93 L257.45 89.89 L258.45 89.84 L259.45 89.80 L260.45 89.76 L261.45 89.72 L262.45 89.67 L263.45 89.63 L264.45 89.59 L265.45 89.54 L266.45 89.50 L267.45 89.46 L268.45 89.42 L269.45 89.37 L270.45 89.33 L271.45 89.29 L272.45 89.25 L273.45 89.20 L274.45 89.16 L275.45 89.12 L276.45 89.08 L277.45 89.03 L278.45 88.99 L279.45 88.95 L280.45 88.91 L281.45 88.87 L282.46 88.83 L283.46 88.79 L284.46 88.74 L285.46 88.70 L286.46 88.66 L287.46 88.62 L288.46 88.58 L289.46 88.54 L290.46 88.50 L291.46 88.46 L292.46 88.42 L293.46 88.38 L294.46 88.34 L295.46 88.30 L296.46 88.26 L297.46 88.22 L298.46 88.18 L299.46 88.14 L300.46 88.10 L301.46 88.06 L302.46 88.02 L303.46 87.98 L304.46 87.94 L305.46 87.90 L306.46 87.86 L307.46 87.82 L308.46 87.78 L309.47 87.74 L310.47 87.71 L311.47 87.67 L312.47 87.63 L313.47 87.59 L314.47 87.55 L315.47 87.51 L316.47 87.47 L317.47 87.44 L318.47 87.40 L319.47 87.36 L320.47 87.32 L321.47 87.28 L322.47 87.24 L323.47 87.21 L324.47 87.17 L325.47 87.13 L326.47 87.09 L327.47 87.06 L328.47 87.02 L329.47 86.98 L330.47 86.94 L331.48 86.91 L332.48 86.87 L333.48 86.83 L334.48 86.79 L335.48 86.76 L336.48 86.72 L337.48 86.68 L338.48 86.65 L339.48 86.61 L340.48 86.57 L341.48 86.54 L342.48 86.50 L343.48 86.46 L344.48 86.43 L345.48 86.39 L346.48 86.35 L347.48 86.32 L348.48 86.28 L349.48 86.24 L350.48 86.21 L351.49 86.17 L352.49 86.14 L353.49 86.10 L354.49 86.07 L355.49 86.03 L356.49 85.99 L357.49 85.96 L358.49 85.92 L359.49 85.89 L360.49 85.85 L361.49 85.82 L362.49 85.78 L363.49 85.75 L364.49 85.71 L365.49 85.68 L366.49 85.64 L367.49 85.61 L368.50 85.57 L369.50 85.54 L370.50 85.50 L371.50 85.47 L372.50 85.44 L373.50 85.40 L374.50 85.37 L375.50 85.33 L376.50 85.30" fill="none" stroke="#00ff00" stroke-width="2.90" stroke-linejoin="bevel" stroke-dasharray="4.7 3.3"/>
</g>
<clipPath id="c2"><rect x="483.00" y="5.50" width="324.50" height="201.90"/></clipPath>
<path d="M485.00 205.40v-2.50M485.00 7.50v2.50M495.02 205.40v-2.50M495.02 7.50v2.50M505.03 205.40v-3.70M505.03 7.50v3.70M515.05 205.40v-2.50M515.05 7.50v2.50M525.06 205.40v-2.50M525.06 7.50v2.50M535.08 205.40v-2.50M535.08 7.50v2.50M545.09 205.40v-2.50M545.09 7.50v2.50M555.11 205.40v-3.70M555.11 7.50v3.70M565.12 205.40v-2.50M565.12 7.50v2.50M575.14 205.40v-2.50M575.14 7.50v2.50M585.16 205.40v-2.50M585.16 7.50v2.50M595.17 205.40v-2.50M595.17 7.50v2.50M605.19 205.40v-3.70M605.19 7.50v3.70M615.20 205.40v-2.50M615.20 7.50v2.50M625.22 205.40v-2.50M625.22 7.50v2.50M635.23 205.40v-2.50M635.23 7.50v2.50M645.25 205.40v-2.50M645.25 7.50v2.50M655.27 205.40v-3.70M655.27 7.50v3.70M665.28 205.40v-2.50M665.28 7.50v2.50M675.30 205.40v-2.50M675.30 7.50v2.50M685.31 205.40v-2.50M685.31 7.50v2.50M695.33 205.40v-2.50M695.33 7.50v2.50M705.34 205.40v-3.70M705.34 7.50v3.70M715.36 205.40v-2.50M715.36 7.50v2.50M725.38 205.40v-2.50M725.38 7.50v2.50M735.39 205.40v-2.50M735.39 7.50v2.50M745.41 205.40v-2.50M745.41 7.50v2.50M755.42 205.40v-3.70M755.42 7.50v3.70M765.44 205.40v-2.50M765.44 7.50v2.50M775.45 205.40v-2.50M775.45 7.50v2.50M785.47 205.40v-2.50M785.47 7.50v2.50M795.48 205.40v-2.50M795.48 7.50v2.50M805.50 205.40v-3.70M805.50 7.50v3.70M485.00 7.50h3.70M805.50 7.50h-3.70M485.00 11.57h2.50M805.50 11.57h-2.50M485.00 16.12h2.50M805.50 16.12h-2.50M485.00 21.29h2.50M805.50 21.29h-2.50M485.00 27.24h2.50M805.50 27.24h-2.50M485.00 34.29h3.70M805.50 34.29h-3.70M485.00 42.92h2.50M805.50 42.92h-2.50M485.00 54.04h2.50M805.50 54.04h-2.50M485.00 69.71h2.50M805.50 69.71h-2.50M485.00 96.50h3.70M805.50 96.50h-3.70M485.00 100.57h2.50M805.50 100.57h-2.50M485.00 105.12h2.50M805.50 105.12h-2.50M485.00 110.29h2.50M805.50 110.29h-2.50M485.00 116.24h2.50M805.50 116.24h-2.50M485.00 123.29h3.70M805.50 123.29h-3.70M485.00 131.92h2.50M805.50 131.92h-2.50M485.00 143.04h2.50M805.50 143.04h-2.50M485.00 158.71h2.50M805.50 158.71h-2.50M485.00 185.50h3.70M805.50 185.50h-3.70M485.00 189.57h2.50M805.50 189.57h-2.50M485.00 194.12h2.50M805.50 194.12h-2.50M485.00 199.29h2.50M805.50 199.29h-2.50" stroke="#606060" stroke-width="0.7" fill="none"/>
<rect x="485.00" y="7.50" width="320.50" height="197.90" fill="none" stroke="#606060" stroke-width="0.7"/>
<text transform="translate(505.03 220.00) scale(1 0.930)" text-anchor="middle">100</text>
<text transform="translate(555.11 220.00) scale(1 0.930)" text-anchor="middle">150</text>
<text transform="translate(605.19 220.00) scale(1 0.930)" text-anchor="middle">200</text>
<text transform="translate(655.27 220.00) scale(1 0.930)" text-anchor="middle">250</text>
<text transform="translate(705.34 220.00) scale(1 0.930)" text-anchor="middle">300</text>
<text transform="translate(755.42 220.00) scale(1 0.930)" text-anchor="middle">350</text>
<text transform="translate(805.50 220.00) scale(1 0.930)" text-anchor="middle">400</text>
<text transform="translate(481.15 11.50) scale(1 0.930)" text-anchor="end">10</text>
<text transform="translate(481.15 38.29) scale(1 0.930)" text-anchor="end">5</text>
<text transform="translate(481.15 100.50) scale(1 0.930)" text-anchor="end">1</text>
<text transform="translate(481.15 127.29) scale(1 0.930)" text-anchor="end">0.5</text>
<text transform="translate(481.15 189.50) scale(1 0.930)" text-anchor="end">0.1</text>
<text transform="translate(645.45 241.50) scale(1 0.930)" text-anchor="middle">T [MeV]</text>
<text transform="translate(453.90 106.65) rotate(-90)" text-anchor="middle" font-size="11.2"><tspan font-style="italic">η</tspan>T/<tspan font-style="italic">w</tspan></text>
<g clip-path="url(#c2)">
<path d="M485.00 12.00 L485.56 12.83 L486.13 13.66 L486.69 14.49 L487.26 15.32 L487.82 16.15 L488.39 16.98 L488.95 17.81 L489.52 18.64 L490.08 19.47 L490.64 20.30 L491.21 21.13 L491.77 21.96 L492.34 22.79 L492.90 23.62 L493.47 24.45 L494.03 25.28 L494.60 26.11 L495.16 26.94 L495.72 27.77 L496.29 28.60 L496.85 29.42 L497.42 30.25 L497.98 31.08 L498.55 31.91 L499.11 32.74 L499.68 33.57 L500.24 34.40 L500.80 35.23 L501.37 36.06 L501.93 36.89 L502.50 37.72 L503.06 38.55 L503.63 39.38 L504.19 40.21 L504.76 41.04 L505.32 41.87 L505.88 42.70 L506.45 43.53 L507.01 44.36 L507.58 45.19 L508.14 46.02 L508.71 46.85 L509.27 47.68 L509.84 48.51 L510.40 49.34 L510.97 50.17 L511.53 51.00 L512.09 51.83 L512.66 52.66 L513.22 53.49 L513.79 54.32 L514.35 55.15 L514.92 55.98 L515.48 56.81 L516.05 57.64 L516.61 58.47 L517.17 59.30 L517.74 60.13 L518.30 60.96 L518.87 61.79 L519.43 62.61 L520.00 63.44 L520.56 64.27 L521.13 65.10 L521.69 65.93 L522.25 66.76 L522.82 67.59 L523.38 68.42 L523.95 69.25 L524.51 70.08 L525.08 70.91 L525.64 71.74 L526.21 72.57 L526.77 73.40 L527.33 74.23 L527.90 75.06 L528.46 75.89 L529.03 76.72 L529.59 77.55 L530.16 78.38 L530.72 79.21 L531.29 80.04 L531.85 80.87 L532.41 81.70 L532.98 82.53 L533.54 83.36 L534.11 84.19 L534.67 85.02 L535.24 85.85 L535.80 86.68 L536.37 87.51 L536.93 88.34 L537.49 89.17 L538.06 90.00 L538.62 90.83 L539.19 91.66 L539.75 92.49 L540.32 93.32 L540.88 94.15 L541.45 94.98 L542.01 95.80 L542.57 96.63 L543.14 97.46 L543.70 98.29 L544.27 99.12 L544.83 99.95 L545.40 100.78 L545.96 101.61 L546.52 102.44 L547.09 103.27 L547.65 104.10 L548.22 104.93 L548.78 105.77 L549.34 106.60 L549.90 107.43 L550.47 108.26 L551.03 109.09 L551.59 109.92 L552.15 110.75 L552.72 111.58 L553.28 112.41 L553.84 113.25 L554.40 114.08 L554.97 114.91 L555.53 115.74 L556.09 116.57 L556.65 117.40 L557.21 118.23 L557.78 119.06 L558.34 119.90 L558.90 120.73 L559.46 121.56 L560.03 122.39 L560.59 123.22 L561.15 124.05 L561.72 124.88 L562.28 125.71 L562.84 126.54 L563.41 127.37 L563.97 128.20 L564.53 129.03 L565.10 129.86 L565.66 130.69 L566.23 131.52 L566.79 132.35 L567.36 133.18 L567.93 134.01 L568.49 134.84 L569.06 135.67 L569.62 136.49 L570.19 137.32 L570.76 138.15 L571.33 138.98 L571.90 139.80 L572.47 140.63 L573.03 141.46 L573.60 142.28 L574.17 143.11 L574.75 143.93 L575.32 144.76 L575.90 145.58 L576.48 146.40 L577.06 147.21 L577.64 148.03 L578.22 148.86 L578.78 149.68 L579.34 150.51 L579.89 151.35 L580.44 152.19 L580.98 153.04 L581.52 153.89 L582.05 154.74 L582.58 155.59 L583.11 156.44 L583.64 157.30 L584.17 158.15 L584.69 159.00 L585.22 159.86 L585.75 160.71 L586.28 161.57 L586.80 162.42 L587.33 163.28 L587.85 164.13 L588.37 164.99 L588.89 165.85 L589.41 166.71 L589.93 167.56 L590.45 168.42 L590.97 169.28 L591.49 170.14 L592.01 171.00 L592.52 171.86 L593.04 172.72 L593.55 173.58 L594.07 174.44 L594.58 175.31 L595.10 176.17 L595.62 177.02 L596.15 177.88 L596.68 178.74 L597.20 179.59 L597.71 180.46 L598.20 181.33 L598.67 182.21 L599.13 183.10 L599.59 184.00 L600.03 184.90 L600.46 185.81 L600.87 186.73 L601.28 187.64 L601.67 188.57 L602.05 189.49 L602.42 190.42 L602.78 191.36 L603.13 192.30 L603.47 193.25 L603.80 194.20 L604.81 194.16 L605.81 194.10 L606.81 194.02 L607.80 193.91 L608.79 193.76 L609.78 193.57 L610.77 193.36 L611.75 193.15 L612.73 192.94 L613.71 192.72 L614.69 192.49 L615.66 192.24 L616.64 191.99 L617.61 191.74 L618.58 191.48 L619.55 191.22 L620.52 190.96 L621.49 190.70 L622.46 190.43 L623.42 190.16 L624.39 189.88 L625.35 189.61 L626.32 189.32 L627.28 189.04 L628.24 188.75 L629.20 188.45 L630.16 188.15 L631.11 187.85 L632.07 187.54 L633.02 187.22 L633.97 186.90 L634.92 186.57 L635.87 186.25 L636.81 185.91 L637.76 185.58 L638.71 185.24 L639.65 184.90 L640.60 184.55 L641.54 184.21 L642.48 183.86 L643.43 183.52 L644.37 183.17 L645.31 182.82 L646.25 182.47 L647.20 182.13 L648.14 181.78 L649.08 181.43 L650.03 181.09 L650.97 180.75 L651.91 180.40 L652.85 180.05 L653.79 179.69 L654.73 179.34 L655.67 178.98 L656.61 178.62 L657.55 178.27 L658.49 177.91 L659.43 177.55 L660.36 177.19 L661.30 176.84 L662.24 176.48 L663.19 176.13 L664.13 175.79 L665.07 175.44 L666.01 175.10 L666.96 174.77 L667.91 174.44 L668.86 174.11 L669.81 173.80 L670.76 173.48 L671.71 173.16 L672.66 172.85 L673.62 172.54 L674.57 172.23 L675.53 171.92 L676.49 171.62 L677.44 171.32 L678.40 171.02 L679.36 170.72 L680.32 170.42 L681.28 170.13 L682.24 169.83 L683.20 169.54 L684.16 169.25 L685.12 168.96 L686.09 168.67 L687.05 168.38 L688.01 168.09 L688.98 167.81 L689.94 167.53 L690.90 167.24 L691.87 166.96 L692.83 166.68 L693.80 166.40 L694.76 166.12 L695.72 165.84 L696.69 165.56 L697.65 165.28 L698.62 165.00 L699.58 164.72 L700.55 164.44 L701.51 164.16 L702.48 163.89 L703.44 163.61 L704.41 163.33 L705.37 163.06 L706.34 162.78 L707.30 162.51 L708.27 162.23 L709.24 161.96 L710.20 161.69 L711.17 161.42 L712.14 161.15 L713.11 160.88 L714.07 160.61 L715.04 160.34 L716.01 160.08 L716.98 159.81 L717.95 159.55 L718.92 159.29 L719.89 159.03 L720.86 158.77 L721.83 158.51 L722.80 158.26 L723.77 158.00 L724.74 157.75 L725.72 157.50 L726.69 157.26 L727.66 157.01 L728.63 156.77 L729.61 156.52 L730.58 156.28 L731.56 156.04 L732.53 155.81 L733.51 155.57 L734.48 155.33 L735.46 155.10 L736.44 154.87 L737.41 154.63 L738.39 154.40 L739.37 154.17 L740.35 153.94 L741.33 153.72 L742.30 153.49 L743.28 153.27 L744.26 153.04 L745.24 152.82 L746.22 152.60 L747.20 152.38 L748.18 152.16 L749.16 151.94 L750.14 151.72 L751.12 151.51 L752.10 151.29 L753.09 151.08 L754.07 150.87 L755.05 150.66 L756.03 150.44 L757.01 150.24 L757.99 150.03 L758.98 149.82 L759.96 149.61 L760.94 149.41 L761.92 149.20 L762.91 149.00 L763.89 148.79 L764.87 148.59 L765.86 148.39 L766.84 148.19 L767.83 147.99 L768.81 147.79 L769.80 147.59 L770.78 147.39 L771.77 147.20 L772.75 147.01 L773.74 146.82 L774.73 146.64 L775.71 146.45 L776.70 146.27 L777.69 146.10 L778.68 145.93 L779.67 145.76 L780.66 145.59 L781.65 145.43 L782.64 145.26 L783.63 145.10 L784.62 144.94 L785.61 144.78 L786.60 144.63 L787.59 144.47 L788.58 144.32 L789.58 144.16 L790.57 144.01 L791.56 143.87 L792.55 143.72 L793.55 143.57 L794.54 143.43 L795.54 143.29 L796.53 143.15 L797.53 143.01 L798.52 142.88 L799.52 142.75 L800.51 142.62 L801.51 142.49 L802.51 142.36 L803.50 142.24 L804.50 142.12 L805.50 142.00" fill="none" stroke="#000000" stroke-width="2.90" stroke-linejoin="miter"/>
<path d="M485.00 12.00 L485.56 12.84 L486.11 13.67 L486.67 14.51 L487.22 15.35 L487.77 16.19 L488.33 17.02 L488.88 17.86 L489.44 18.70 L489.99 19.54 L490.55 20.37 L491.10 21.21 L491.65 22.05 L492.21 22.89 L492.76 23.73 L493.31 24.56 L493.87 25.40 L494.42 26.24 L494.97 27.08 L495.53 27.92 L496.08 28.76 L496.63 29.60 L497.18 30.43 L497.74 31.27 L498.29 32.11 L498.84 32.95 L499.39 33.79 L499.94 34.63 L500.50 35.47 L501.05 36.31 L501.60 37.15 L502.15 37.99 L502.70 38.83 L503.25 39.67 L503.80 40.51 L504.35 41.35 L504.90 42.19 L505.45 43.03 L506.01 43.87 L506.56 44.71 L507.11 45.55 L507.66 46.39 L508.21 47.23 L508.76 48.07 L509.31 48.91 L509.85 49.75 L510.40 50.59 L510.95 51.43 L511.50 52.27 L512.05 53.11 L512.60 53.95 L513.15 54.79 L513.70 55.64 L514.25 56.48 L514.79 57.32 L515.34 58.16 L515.89 59.00 L516.44 59.85 L516.98 60.69 L517.53 61.53 L518.08 62.37 L518.62 63.22 L519.17 64.06 L519.71 64.90 L520.26 65.75 L520.80 66.59 L521.35 67.43 L521.89 68.28 L522.44 69.12 L522.98 69.97 L523.52 70.81 L524.07 71.65 L524.61 72.50 L525.16 73.34 L525.70 74.19 L526.24 75.03 L526.79 75.88 L527.33 76.72 L527.87 77.57 L528.42 78.41 L528.96 79.26 L529.50 80.10 L530.05 80.94 L530.59 81.79 L531.14 82.63 L531.68 83.48 L532.22 84.32 L532.77 85.17 L533.31 86.01 L533.86 86.86 L534.40 87.70 L534.94 88.54 L535.49 89.39 L536.03 90.23 L536.58 91.07 L537.12 91.92 L537.67 92.76 L538.22 93.60 L538.76 94.45 L539.31 95.29 L539.85 96.13 L540.40 96.97 L540.95 97.82 L541.50 98.66 L542.04 99.50 L542.59 100.34 L543.14 101.18 L543.69 102.03 L544.24 102.87 L544.78 103.71 L545.33 104.55 L545.88 105.39 L546.42 106.24 L546.97 107.08 L547.52 107.92 L548.06 108.77 L548.61 109.61 L549.16 110.45 L549.70 111.30 L550.25 112.14 L550.79 112.98 L551.34 113.82 L551.89 114.67 L552.43 115.51 L552.98 116.35 L553.53 117.20 L554.07 118.04 L554.62 118.88 L555.17 119.72 L555.72 120.57 L556.26 121.41 L556.81 122.25 L557.36 123.09 L557.91 123.93 L558.46 124.77 L559.01 125.61 L559.56 126.45 L560.11 127.29 L560.66 128.13 L561.21 128.97 L561.77 129.81 L562.32 130.65 L562.87 131.49 L563.43 132.32 L563.98 133.16 L564.54 134.00 L565.10 134.83 L565.66 135.67 L566.21 136.50 L566.77 137.34 L567.33 138.17 L567.89 139.00 L568.46 139.83 L569.02 140.67 L569.58 141.50 L570.15 142.33 L570.72 143.15 L571.28 143.98 L571.85 144.81 L572.43 145.63 L573.01 146.45 L573.60 147.27 L574.20 148.08 L574.79 148.89 L575.39 149.70 L575.98 150.51 L576.58 151.32 L577.17 152.13 L577.76 152.95 L578.34 153.77 L578.91 154.59 L579.48 155.42 L580.03 156.26 L580.57 157.10 L581.10 157.95 L581.62 158.80 L582.13 159.67 L582.63 160.54 L583.13 161.41 L583.62 162.29 L584.10 163.17 L584.59 164.05 L585.07 164.93 L585.56 165.81 L586.05 166.69 L586.54 167.57 L587.03 168.44 L587.53 169.32 L588.02 170.19 L588.51 171.07 L589.01 171.94 L589.50 172.82 L589.99 173.69 L590.48 174.57 L590.97 175.45 L591.45 176.33 L591.94 177.21 L592.42 178.09 L592.91 178.97 L593.40 179.84 L593.88 180.73 L594.35 181.61 L594.81 182.51 L595.24 183.41 L595.67 184.32 L596.09 185.23 L596.50 186.14 L596.90 187.06 L597.29 187.99 L597.67 188.92 L598.04 189.86 L598.40 190.80 L599.40 190.67 L600.39 190.53 L601.39 190.39 L602.38 190.24 L603.38 190.08 L604.37 189.92 L605.36 189.76 L606.35 189.59 L607.33 189.41 L608.32 189.24 L609.31 189.05 L610.29 188.87 L611.28 188.67 L612.26 188.48 L613.24 188.28 L614.22 188.08 L615.20 187.87 L616.17 187.66 L617.15 187.45 L618.13 187.23 L619.10 187.01 L620.07 186.78 L621.04 186.54 L622.01 186.30 L622.98 186.04 L623.94 185.78 L624.91 185.51 L625.87 185.24 L626.84 184.96 L627.80 184.67 L628.76 184.38 L629.72 184.09 L630.68 183.79 L631.64 183.49 L632.59 183.18 L633.55 182.88 L634.51 182.57 L635.46 182.26 L636.42 181.95 L637.37 181.65 L638.33 181.34 L639.28 181.03 L640.23 180.73 L641.19 180.42 L642.14 180.10 L643.09 179.79 L644.04 179.46 L644.98 179.14 L645.93 178.81 L646.87 178.47 L647.82 178.14 L648.76 177.80 L649.71 177.46 L650.65 177.12 L651.59 176.77 L652.53 176.43 L653.48 176.08 L654.42 175.74 L655.36 175.39 L656.30 175.05 L657.24 174.71 L658.19 174.36 L659.13 174.02 L660.07 173.69 L661.02 173.35 L661.96 173.02 L662.91 172.69 L663.86 172.36 L664.80 172.04 L665.75 171.72 L666.70 171.40 L667.66 171.10 L668.61 170.79 L669.57 170.49 L670.52 170.20 L671.48 169.90 L672.44 169.61 L673.39 169.32 L674.35 169.03 L675.31 168.74 L676.27 168.46 L677.24 168.17 L678.20 167.89 L679.16 167.61 L680.12 167.33 L681.09 167.06 L682.05 166.78 L683.02 166.51 L683.98 166.24 L684.95 165.97 L685.91 165.70 L686.88 165.43 L687.85 165.16 L688.81 164.90 L689.78 164.63 L690.75 164.37 L691.71 164.11 L692.68 163.85 L693.65 163.59 L694.62 163.33 L695.59 163.07 L696.56 162.81 L697.52 162.55 L698.49 162.30 L699.46 162.04 L700.43 161.78 L701.40 161.53 L702.37 161.27 L703.34 161.02 L704.31 160.77 L705.28 160.51 L706.25 160.26 L707.22 160.01 L708.19 159.76 L709.16 159.51 L710.13 159.26 L711.10 159.02 L712.07 158.77 L713.05 158.52 L714.02 158.28 L714.99 158.04 L715.96 157.80 L716.94 157.56 L717.91 157.32 L718.89 157.08 L719.86 156.84 L720.83 156.61 L721.81 156.38 L722.78 156.15 L723.76 155.92 L724.74 155.69 L725.71 155.47 L726.69 155.24 L727.67 155.02 L728.64 154.80 L729.62 154.58 L730.60 154.37 L731.58 154.15 L732.55 153.94 L733.53 153.73 L734.51 153.52 L735.49 153.31 L736.47 153.11 L737.45 152.90 L738.43 152.70 L739.42 152.49 L740.40 152.29 L741.38 152.09 L742.36 151.89 L743.34 151.69 L744.33 151.50 L745.31 151.30 L746.29 151.10 L747.28 150.91 L748.26 150.72 L749.24 150.53 L750.23 150.33 L751.21 150.14 L752.20 149.95 L753.18 149.76 L754.17 149.58 L755.15 149.39 L756.14 149.20 L757.12 149.02 L758.11 148.83 L759.09 148.65 L760.08 148.46 L761.06 148.28 L762.05 148.10 L763.03 147.91 L764.02 147.73 L765.00 147.55 L765.99 147.37 L766.98 147.19 L767.96 147.01 L768.95 146.83 L769.93 146.65 L770.92 146.47 L771.90 146.29 L772.89 146.11 L773.88 145.94 L774.86 145.76 L775.85 145.58 L776.84 145.41 L777.82 145.23 L778.81 145.06 L779.80 144.88 L780.78 144.71 L781.77 144.54 L782.76 144.37 L783.75 144.20 L784.73 144.03 L785.72 143.86 L786.71 143.69 L787.70 143.52 L788.68 143.35 L789.67 143.18 L790.66 143.02 L791.65 142.85 L792.64 142.69 L793.63 142.52 L794.62 142.36 L795.60 142.19 L796.59 142.03 L797.58 141.87 L798.57 141.71 L799.56 141.55 L800.55 141.39 L801.54 141.23 L802.53 141.07 L803.52 140.91 L804.51 140.76 L805.50 140.60" fill="none" stroke="#aa0000" stroke-width="2.90" stroke-linejoin="bevel" stroke-dasharray="12.6 6.6" stroke-dashoffset="1.0"/>
<path d="M485.00 16.10 L485.48 16.98 L485.97 17.86 L486.45 18.74 L486.94 19.62 L487.43 20.50 L487.91 21.37 L488.40 22.25 L488.89 23.13 L489.37 24.01 L489.86 24.88 L490.35 25.76 L490.84 26.64 L491.33 27.51 L491.82 28.39 L492.31 29.27 L492.80 30.14 L493.30 31.02 L493.79 31.89 L494.28 32.77 L494.77 33.64 L495.27 34.52 L495.76 35.39 L496.25 36.27 L496.75 37.14 L497.24 38.01 L497.74 38.89 L498.23 39.76 L498.73 40.63 L499.23 41.50 L499.72 42.38 L500.22 43.25 L500.72 44.12 L501.22 44.99 L501.72 45.86 L502.21 46.73 L502.71 47.61 L503.21 48.48 L503.71 49.35 L504.21 50.22 L504.71 51.09 L505.21 51.96 L505.72 52.83 L506.22 53.70 L506.72 54.57 L507.22 55.44 L507.72 56.30 L508.23 57.17 L508.73 58.04 L509.23 58.91 L509.74 59.78 L510.24 60.65 L510.74 61.52 L511.25 62.39 L511.75 63.26 L512.25 64.12 L512.76 64.99 L513.26 65.86 L513.77 66.73 L514.28 67.60 L514.78 68.46 L515.29 69.33 L515.80 70.19 L516.31 71.06 L516.82 71.92 L517.33 72.79 L517.85 73.65 L518.36 74.51 L518.88 75.37 L519.40 76.23 L519.92 77.09 L520.44 77.95 L520.96 78.81 L521.48 79.66 L522.01 80.52 L522.54 81.37 L523.07 82.22 L523.60 83.07 L524.14 83.92 L524.68 84.76 L525.22 85.61 L525.77 86.45 L526.31 87.29 L526.86 88.14 L527.41 88.98 L527.96 89.82 L528.51 90.66 L529.06 91.50 L529.61 92.34 L530.16 93.18 L530.71 94.01 L531.26 94.85 L531.82 95.69 L532.37 96.53 L532.92 97.37 L533.46 98.22 L534.01 99.06 L534.56 99.90 L535.10 100.75 L535.64 101.59 L536.18 102.44 L536.72 103.29 L537.25 104.13 L537.79 104.98 L538.32 105.83 L538.85 106.69 L539.39 107.54 L539.92 108.39 L540.45 109.24 L540.98 110.09 L541.50 110.95 L542.03 111.80 L542.56 112.66 L543.09 113.51 L543.61 114.36 L544.14 115.22 L544.67 116.07 L545.19 116.93 L545.72 117.79 L546.24 118.64 L546.77 119.50 L547.29 120.35 L547.82 121.21 L548.34 122.07 L548.87 122.92 L549.39 123.78 L549.92 124.63 L550.44 125.49 L550.97 126.34 L551.49 127.20 L552.02 128.06 L552.54 128.91 L553.07 129.77 L553.60 130.62 L554.12 131.47 L554.65 132.33 L555.18 133.18 L555.71 134.04 L556.23 134.89 L556.76 135.75 L557.29 136.60 L557.82 137.46 L558.34 138.31 L558.87 139.17 L559.40 140.02 L559.92 140.88 L560.45 141.73 L560.97 142.59 L561.50 143.44 L562.02 144.30 L562.55 145.15 L563.07 146.01 L563.59 146.87 L564.12 147.73 L564.64 148.58 L565.16 149.44 L565.68 150.30 L566.20 151.16 L566.72 152.02 L567.23 152.88 L567.75 153.74 L568.26 154.60 L568.78 155.46 L569.29 156.33 L569.80 157.19 L570.32 158.05 L570.83 158.92 L571.34 159.78 L571.85 160.65 L572.36 161.51 L572.87 162.38 L573.37 163.24 L573.88 164.11 L574.39 164.98 L574.89 165.84 L575.40 166.71 L575.90 167.58 L576.41 168.45 L576.91 169.32 L577.41 170.19 L577.91 171.06 L578.41 171.93 L578.91 172.80 L579.41 173.67 L579.91 174.54 L580.41 175.41 L580.91 176.28 L581.41 177.15 L581.90 178.03 L582.40 178.90 L583.41 178.84 L584.41 178.77 L585.42 178.70 L586.42 178.62 L587.42 178.53 L588.42 178.44 L589.43 178.34 L590.43 178.24 L591.43 178.13 L592.42 178.02 L593.42 177.91 L594.42 177.79 L595.41 177.66 L596.41 177.54 L597.40 177.40 L598.40 177.27 L599.39 177.13 L600.38 176.99 L601.37 176.85 L602.36 176.70 L603.35 176.55 L604.33 176.40 L605.32 176.25 L606.31 176.09 L607.29 175.92 L608.27 175.73 L609.25 175.54 L610.24 175.34 L611.22 175.13 L612.19 174.92 L613.17 174.69 L614.15 174.46 L615.13 174.23 L616.10 173.99 L617.08 173.74 L618.05 173.49 L619.03 173.24 L620.00 172.98 L620.97 172.72 L621.94 172.46 L622.91 172.20 L623.89 171.94 L624.86 171.68 L625.83 171.41 L626.80 171.15 L627.77 170.89 L628.74 170.63 L629.71 170.38 L630.68 170.12 L631.65 169.86 L632.61 169.60 L633.58 169.33 L634.55 169.06 L635.51 168.78 L636.48 168.50 L637.44 168.22 L638.40 167.94 L639.36 167.65 L640.32 167.36 L641.29 167.06 L642.25 166.77 L643.21 166.47 L644.17 166.18 L645.13 165.88 L646.09 165.58 L647.04 165.28 L648.00 164.98 L648.96 164.68 L649.92 164.38 L650.88 164.09 L651.84 163.79 L652.80 163.49 L653.76 163.20 L654.72 162.91 L655.68 162.62 L656.64 162.33 L657.61 162.04 L658.57 161.76 L659.53 161.48 L660.50 161.21 L661.46 160.93 L662.43 160.67 L663.39 160.40 L664.36 160.14 L665.33 159.89 L666.30 159.64 L667.27 159.40 L668.24 159.16 L669.22 158.93 L670.19 158.70 L671.17 158.47 L672.14 158.25 L673.12 158.03 L674.10 157.82 L675.08 157.61 L676.06 157.40 L677.04 157.19 L678.02 156.99 L679.00 156.79 L679.98 156.59 L680.97 156.39 L681.95 156.20 L682.94 156.00 L683.92 155.81 L684.91 155.62 L685.89 155.43 L686.88 155.24 L687.87 155.05 L688.85 154.87 L689.84 154.68 L690.83 154.50 L691.81 154.31 L692.80 154.13 L693.79 153.94 L694.77 153.76 L695.76 153.57 L696.75 153.38 L697.74 153.20 L698.72 153.01 L699.71 152.82 L700.70 152.63 L701.68 152.44 L702.67 152.25 L703.65 152.06 L704.64 151.86 L705.62 151.66 L706.60 151.47 L707.59 151.26 L708.57 151.06 L709.55 150.85 L710.53 150.65 L711.51 150.44 L712.49 150.22 L713.48 150.01 L714.46 149.80 L715.44 149.58 L716.42 149.37 L717.40 149.15 L718.38 148.93 L719.36 148.72 L720.34 148.50 L721.32 148.29 L722.30 148.08 L723.28 147.87 L724.26 147.66 L725.24 147.45 L726.22 147.25 L727.21 147.05 L728.19 146.85 L729.17 146.66 L730.16 146.47 L731.14 146.28 L732.13 146.10 L733.11 145.91 L734.10 145.72 L735.09 145.54 L736.07 145.36 L737.06 145.18 L738.05 145.00 L739.03 144.82 L740.02 144.64 L741.01 144.46 L742.00 144.29 L742.98 144.11 L743.97 143.94 L744.96 143.76 L745.95 143.59 L746.94 143.42 L747.93 143.25 L748.92 143.08 L749.91 142.91 L750.90 142.75 L751.89 142.58 L752.88 142.42 L753.87 142.25 L754.86 142.09 L755.85 141.92 L756.84 141.76 L757.83 141.60 L758.82 141.44 L759.81 141.28 L760.80 141.12 L761.79 140.97 L762.78 140.81 L763.77 140.65 L764.76 140.50 L765.75 140.35 L766.75 140.19 L767.74 140.04 L768.73 139.89 L769.72 139.74 L770.71 139.59 L771.70 139.44 L772.70 139.29 L773.69 139.14 L774.68 138.99 L775.67 138.85 L776.66 138.70 L777.66 138.55 L778.65 138.41 L779.64 138.27 L780.64 138.12 L781.63 137.98 L782.62 137.84 L783.61 137.70 L784.61 137.56 L785.60 137.42 L786.60 137.28 L787.59 137.14 L788.58 137.00 L789.58 136.87 L790.57 136.73 L791.57 136.60 L792.56 136.46 L793.56 136.33 L794.55 136.20 L795.54 136.07 L796.54 135.94 L797.53 135.81 L798.53 135.68 L799.53 135.55 L800.52 135.42 L801.52 135.30 L802.51 135.17 L803.51 135.05 L804.50 134.92 L805.50 134.80" fill="none" stroke="#0000ff" stroke-width="2.90" stroke-linejoin="bevel" stroke-dasharray="8 3.3 3.4 3.3" stroke-dashoffset="3.0"/>
<path d="M485.00 36.30 L485.41 37.22 L485.82 38.14 L486.23 39.06 L486.65 39.98 L487.06 40.89 L487.48 41.81 L487.90 42.72 L488.32 43.64 L488.74 44.55 L489.17 45.46 L489.59 46.38 L490.02 47.29 L490.45 48.20 L490.88 49.11 L491.32 50.02 L491.75 50.92 L492.19 51.83 L492.62 52.74 L493.06 53.64 L493.50 54.55 L493.94 55.45 L494.39 56.35 L494.83 57.26 L495.28 58.16 L495.73 59.06 L496.18 59.96 L496.63 60.85 L497.08 61.75 L497.54 62.65 L498.00 63.54 L498.46 64.44 L498.92 65.33 L499.39 66.23 L499.85 67.12 L500.32 68.01 L500.79 68.90 L501.26 69.79 L501.73 70.68 L502.20 71.57 L502.68 72.46 L503.15 73.35 L503.63 74.23 L504.11 75.12 L504.59 76.00 L505.07 76.89 L505.55 77.77 L506.03 78.66 L506.51 79.54 L507.00 80.42 L507.48 81.30 L507.97 82.18 L508.46 83.06 L508.95 83.94 L509.44 84.82 L509.94 85.69 L510.43 86.57 L510.93 87.44 L511.43 88.32 L511.93 89.19 L512.43 90.06 L512.93 90.94 L513.44 91.81 L513.94 92.68 L514.44 93.55 L514.95 94.42 L515.45 95.29 L515.96 96.16 L516.46 97.03 L516.97 97.90 L517.47 98.77 L517.98 99.64 L518.48 100.52 L518.99 101.39 L519.49 102.26 L520.00 103.13 L520.50 104.00 L521.01 104.87 L521.52 105.74 L522.02 106.60 L522.53 107.47 L523.04 108.34 L523.55 109.21 L524.06 110.08 L524.57 110.95 L525.08 111.81 L525.59 112.68 L526.10 113.55 L526.62 114.41 L527.13 115.28 L527.64 116.14 L528.16 117.01 L528.68 117.87 L529.19 118.73 L529.71 119.60 L530.23 120.46 L530.75 121.32 L531.28 122.18 L531.80 123.04 L532.33 123.90 L532.86 124.75 L533.38 125.61 L533.92 126.46 L534.45 127.32 L534.98 128.17 L535.52 129.02 L536.05 129.88 L536.59 130.73 L537.12 131.58 L537.66 132.43 L538.20 133.28 L538.73 134.13 L539.27 134.98 L539.81 135.83 L540.35 136.68 L540.89 137.53 L541.43 138.38 L541.98 139.23 L542.52 140.07 L543.06 140.92 L543.61 141.77 L544.15 142.61 L544.70 143.46 L545.24 144.30 L545.79 145.15 L546.34 145.99 L546.89 146.83 L547.44 147.68 L547.99 148.52 L548.55 149.36 L549.10 150.20 L550.10 150.19 L551.11 150.18 L552.11 150.16 L553.11 150.14 L554.11 150.12 L555.11 150.09 L556.12 150.06 L557.12 150.03 L558.12 149.99 L559.12 149.95 L560.12 149.91 L561.12 149.87 L562.12 149.82 L563.12 149.77 L564.12 149.72 L565.12 149.67 L566.11 149.62 L567.11 149.56 L568.11 149.51 L569.11 149.45 L570.10 149.39 L571.10 149.33 L572.10 149.27 L573.09 149.19 L574.09 149.11 L575.08 149.02 L576.08 148.93 L577.07 148.83 L578.07 148.72 L579.06 148.61 L580.06 148.50 L581.05 148.38 L582.04 148.25 L583.04 148.12 L584.03 147.99 L585.02 147.86 L586.01 147.72 L587.01 147.58 L588.00 147.43 L588.99 147.29 L589.98 147.14 L590.97 146.99 L591.96 146.84 L592.96 146.69 L593.95 146.54 L594.94 146.39 L595.93 146.24 L596.92 146.09 L597.91 145.94 L598.90 145.79 L599.90 145.64 L600.89 145.49 L601.88 145.34 L602.87 145.20 L603.86 145.06 L604.85 144.92 L605.84 144.78 L606.83 144.64 L607.83 144.50 L608.82 144.36 L609.81 144.22 L610.80 144.08 L611.79 143.93 L612.78 143.79 L613.77 143.64 L614.76 143.49 L615.75 143.34 L616.74 143.19 L617.73 143.04 L618.72 142.89 L619.71 142.74 L620.70 142.59 L621.69 142.44 L622.68 142.29 L623.67 142.14 L624.66 141.99 L625.64 141.84 L626.63 141.69 L627.62 141.54 L628.61 141.39 L629.60 141.24 L630.59 141.09 L631.58 140.94 L632.57 140.80 L633.56 140.65 L634.56 140.51 L635.55 140.36 L636.54 140.22 L637.53 140.08 L638.52 139.94 L639.51 139.80 L640.50 139.66 L641.49 139.53 L642.48 139.39 L643.48 139.25 L644.47 139.11 L645.46 138.98 L646.45 138.84 L647.44 138.71 L648.43 138.57 L649.43 138.44 L650.42 138.30 L651.41 138.17 L652.40 138.04 L653.39 137.90 L654.39 137.77 L655.38 137.64 L656.37 137.50 L657.36 137.37 L658.35 137.24 L659.35 137.11 L660.34 136.98 L661.33 136.85 L662.32 136.72 L663.32 136.59 L664.31 136.46 L665.30 136.33 L666.29 136.20 L667.29 136.07 L668.28 135.94 L669.27 135.81 L670.27 135.68 L671.26 135.55 L672.25 135.42 L673.24 135.30 L674.24 135.17 L675.23 135.04 L676.22 134.91 L677.21 134.79 L678.21 134.66 L679.20 134.53 L680.19 134.41 L681.19 134.28 L682.18 134.16 L683.17 134.04 L684.17 133.91 L685.16 133.79 L686.15 133.67 L687.15 133.55 L688.14 133.42 L689.13 133.30 L690.13 133.18 L691.12 133.06 L692.11 132.94 L693.11 132.82 L694.10 132.70 L695.10 132.58 L696.09 132.45 L697.08 132.33 L698.08 132.21 L699.07 132.09 L700.06 131.96 L701.06 131.84 L702.05 131.71 L703.04 131.59 L704.04 131.46 L705.03 131.33 L706.02 131.21 L707.01 131.08 L708.01 130.95 L709.00 130.81 L709.99 130.68 L710.98 130.55 L711.97 130.41 L712.97 130.27 L713.96 130.14 L714.95 130.00 L715.94 129.86 L716.93 129.73 L717.92 129.59 L718.92 129.45 L719.91 129.32 L720.90 129.18 L721.89 129.05 L722.88 128.92 L723.88 128.78 L724.87 128.65 L725.86 128.52 L726.85 128.39 L727.85 128.27 L728.84 128.14 L729.83 128.02 L730.83 127.90 L731.82 127.78 L732.81 127.66 L733.81 127.54 L734.80 127.42 L735.79 127.31 L736.79 127.19 L737.78 127.07 L738.78 126.96 L739.77 126.84 L740.77 126.73 L741.76 126.62 L742.75 126.50 L743.75 126.39 L744.74 126.28 L745.74 126.17 L746.73 126.06 L747.73 125.95 L748.72 125.84 L749.72 125.73 L750.71 125.62 L751.71 125.51 L752.70 125.41 L753.70 125.30 L754.70 125.19 L755.69 125.09 L756.69 124.98 L757.68 124.87 L758.68 124.77 L759.67 124.66 L760.67 124.56 L761.66 124.46 L762.66 124.35 L763.66 124.25 L764.65 124.15 L765.65 124.04 L766.64 123.94 L767.64 123.84 L768.63 123.73 L769.63 123.63 L770.62 123.53 L771.62 123.43 L772.62 123.33 L773.61 123.23 L774.61 123.13 L775.60 123.03 L776.60 122.93 L777.60 122.83 L778.59 122.73 L779.59 122.63 L780.58 122.53 L781.58 122.44 L782.58 122.34 L783.57 122.24 L784.57 122.15 L785.57 122.05 L786.56 121.95 L787.56 121.86 L788.55 121.76 L789.55 121.67 L790.55 121.57 L791.54 121.48 L792.54 121.38 L793.54 121.29 L794.53 121.20 L795.53 121.11 L796.53 121.01 L797.52 120.92 L798.52 120.83 L799.52 120.74 L800.51 120.65 L801.51 120.56 L802.51 120.47 L803.51 120.38 L804.50 120.29 L805.50 120.20" fill="none" stroke="#996633" stroke-width="2.90" stroke-linejoin="bevel" stroke-dasharray="4.7 3.3" stroke-dashoffset="2.5"/>
<path d="M485.00 59.00 L485.43 59.91 L485.87 60.81 L486.31 61.72 L486.75 62.62 L487.19 63.52 L487.63 64.43 L488.07 65.33 L488.52 66.23 L488.97 67.13 L489.41 68.03 L489.86 68.93 L490.31 69.83 L490.77 70.72 L491.22 71.62 L491.67 72.52 L492.13 73.41 L492.59 74.31 L493.05 75.20 L493.51 76.09 L493.97 76.99 L494.43 77.88 L494.89 78.77 L495.36 79.66 L495.82 80.55 L496.29 81.44 L496.76 82.32 L497.24 83.21 L497.71 84.10 L498.18 84.98 L498.66 85.86 L499.14 86.75 L499.62 87.63 L500.10 88.51 L500.59 89.39 L501.07 90.27 L501.56 91.15 L502.04 92.03 L502.53 92.91 L503.02 93.79 L503.51 94.67 L504.00 95.54 L504.49 96.42 L504.98 97.30 L505.48 98.17 L505.97 99.05 L506.46 99.92 L506.96 100.80 L507.45 101.67 L507.95 102.55 L508.43 103.43 L508.92 104.31 L509.40 105.20 L509.88 106.09 L510.36 106.97 L510.84 107.86 L511.32 108.75 L511.80 109.64 L512.29 110.53 L512.78 111.41 L513.27 112.29 L513.76 113.17 L514.26 114.05 L514.76 114.92 L515.27 115.78 L515.79 116.64 L516.32 117.49 L516.85 118.34 L517.40 119.18 L517.95 120.01 L518.51 120.83 L519.09 121.64 L519.68 122.44 L520.31 123.22 L520.96 123.99 L521.63 124.75 L522.30 125.50 L523.30 125.50 L524.31 125.50 L525.31 125.49 L526.32 125.49 L527.32 125.48 L528.32 125.48 L529.33 125.47 L530.33 125.46 L531.34 125.45 L532.34 125.44 L533.34 125.42 L534.35 125.41 L535.35 125.40 L536.35 125.38 L537.35 125.37 L538.36 125.35 L539.36 125.34 L540.36 125.32 L541.37 125.30 L542.37 125.29 L543.37 125.26 L544.37 125.23 L545.37 125.19 L546.38 125.15 L547.38 125.11 L548.38 125.06 L549.38 125.00 L550.38 124.94 L551.39 124.88 L552.39 124.82 L553.39 124.75 L554.39 124.68 L555.39 124.61 L556.39 124.53 L557.39 124.46 L558.40 124.38 L559.40 124.30 L560.40 124.22 L561.40 124.14 L562.40 124.07 L563.40 123.99 L564.40 123.91 L565.40 123.83 L566.40 123.76 L567.41 123.68 L568.41 123.61 L569.41 123.54 L570.41 123.47 L571.41 123.41 L572.41 123.34 L573.41 123.27 L574.41 123.20 L575.42 123.14 L576.42 123.07 L577.42 123.00 L578.42 122.93 L579.42 122.87 L580.42 122.80 L581.42 122.73 L582.42 122.66 L583.42 122.59 L584.43 122.52 L585.43 122.45 L586.43 122.38 L587.43 122.31 L588.43 122.24 L589.43 122.17 L590.43 122.10 L591.43 122.03 L592.43 121.95 L593.44 121.88 L594.44 121.81 L595.44 121.73 L596.44 121.66 L597.44 121.59 L598.44 121.51 L599.44 121.43 L600.44 121.36 L601.44 121.28 L602.44 121.20 L603.44 121.12 L604.44 121.04 L605.44 120.96 L606.44 120.88 L607.44 120.80 L608.44 120.72 L609.44 120.63 L610.44 120.55 L611.44 120.46 L612.44 120.37 L613.44 120.28 L614.44 120.19 L615.44 120.10 L616.44 120.01 L617.44 119.92 L618.44 119.82 L619.44 119.73 L620.43 119.64 L621.43 119.54 L622.43 119.45 L623.43 119.35 L624.43 119.26 L625.43 119.17 L626.43 119.07 L627.43 118.98 L628.43 118.88 L629.43 118.79 L630.43 118.70 L631.43 118.60 L632.42 118.51 L633.42 118.42 L634.42 118.33 L635.42 118.24 L636.42 118.15 L637.42 118.06 L638.42 117.97 L639.42 117.88 L640.42 117.80 L641.42 117.71 L642.42 117.62 L643.42 117.54 L644.42 117.45 L645.42 117.36 L646.42 117.28 L647.42 117.19 L648.42 117.11 L649.42 117.02 L650.42 116.94 L651.42 116.85 L652.42 116.77 L653.42 116.68 L654.42 116.60 L655.42 116.51 L656.42 116.43 L657.42 116.34 L658.42 116.26 L659.42 116.17 L660.42 116.09 L661.42 116.01 L662.42 115.92 L663.42 115.84 L664.42 115.76 L665.42 115.67 L666.42 115.59 L667.42 115.50 L668.42 115.42 L669.42 115.34 L670.42 115.26 L671.42 115.17 L672.42 115.09 L673.42 115.01 L674.42 114.92 L675.42 114.84 L676.42 114.76 L677.42 114.67 L678.42 114.59 L679.42 114.51 L680.42 114.42 L681.42 114.34 L682.42 114.26 L683.42 114.18 L684.42 114.09 L685.42 114.01 L686.42 113.93 L687.42 113.85 L688.42 113.76 L689.42 113.68 L690.42 113.60 L691.42 113.52 L692.42 113.44 L693.42 113.36 L694.42 113.27 L695.42 113.19 L696.42 113.11 L697.42 113.03 L698.42 112.95 L699.42 112.87 L700.42 112.79 L701.42 112.71 L702.42 112.63 L703.42 112.55 L704.42 112.47 L705.42 112.39 L706.42 112.31 L707.42 112.23 L708.42 112.15 L709.42 112.08 L710.43 112.00 L711.43 111.92 L712.43 111.84 L713.43 111.76 L714.43 111.69 L715.43 111.61 L716.43 111.53 L717.43 111.46 L718.43 111.38 L719.43 111.30 L720.43 111.23 L721.43 111.15 L722.43 111.07 L723.43 111.00 L724.43 110.92 L725.43 110.85 L726.43 110.77 L727.43 110.69 L728.44 110.62 L729.44 110.54 L730.44 110.47 L731.44 110.39 L732.44 110.32 L733.44 110.24 L734.44 110.17 L735.44 110.09 L736.44 110.02 L737.44 109.94 L738.44 109.87 L739.44 109.79 L740.44 109.72 L741.44 109.65 L742.45 109.57 L743.45 109.50 L744.45 109.42 L745.45 109.35 L746.45 109.28 L747.45 109.20 L748.45 109.13 L749.45 109.05 L750.45 108.98 L751.45 108.91 L752.45 108.83 L753.45 108.76 L754.45 108.69 L755.46 108.61 L756.46 108.54 L757.46 108.47 L758.46 108.40 L759.46 108.32 L760.46 108.25 L761.46 108.18 L762.46 108.10 L763.46 108.03 L764.46 107.96 L765.46 107.88 L766.46 107.81 L767.47 107.74 L768.47 107.67 L769.47 107.59 L770.47 107.52 L771.47 107.45 L772.47 107.37 L773.47 107.30 L774.47 107.23 L775.47 107.16 L776.47 107.08 L777.47 107.01 L778.48 106.94 L779.48 106.87 L780.48 106.79 L781.48 106.72 L782.48 106.65 L783.48 106.58 L784.48 106.51 L785.48 106.43 L786.48 106.36 L787.48 106.29 L788.48 106.22 L789.48 106.15 L790.49 106.07 L791.49 106.00 L792.49 105.93 L793.49 105.86 L794.49 105.79 L795.49 105.71 L796.49 105.64 L797.49 105.57 L798.49 105.50 L799.49 105.43 L800.50 105.36 L801.50 105.29 L802.50 105.21 L803.50 105.14 L804.50 105.07 L805.50 105.00" fill="none" stroke="#00ff00" stroke-width="2.90" stroke-linejoin="bevel" stroke-dasharray="4.7 3.3" stroke-dashoffset="2.0"/>
</g>
<clipPath id="c3"><rect x="54.50" y="270.50" width="324.00" height="201.90"/></clipPath>
<path d="M56.50 470.40v-2.50M56.50 272.50v2.50M66.50 470.40v-2.50M66.50 272.50v2.50M76.50 470.40v-3.70M76.50 272.50v3.70M86.50 470.40v-2.50M86.50 272.50v2.50M96.50 470.40v-2.50M96.50 272.50v2.50M106.50 470.40v-2.50M106.50 272.50v2.50M116.50 470.40v-2.50M116.50 272.50v2.50M126.50 470.40v-3.70M126.50 272.50v3.70M136.50 470.40v-2.50M136.50 272.50v2.50M146.50 470.40v-2.50M146.50 272.50v2.50M156.50 470.40v-2.50M156.50 272.50v2.50M166.50 470.40v-2.50M166.50 272.50v2.50M176.50 470.40v-3.70M176.50 272.50v3.70M186.50 470.40v-2.50M186.50 272.50v2.50M196.50 470.40v-2.50M196.50 272.50v2.50M206.50 470.40v-2.50M206.50 272.50v2.50M216.50 470.40v-2.50M216.50 272.50v2.50M226.50 470.40v-3.70M226.50 272.50v3.70M236.50 470.40v-2.50M236.50 272.50v2.50M246.50 470.40v-2.50M246.50 272.50v2.50M256.50 470.40v-2.50M256.50 272.50v2.50M266.50 470.40v-2.50M266.50 272.50v2.50M276.50 470.40v-3.70M276.50 272.50v3.70M286.50 470.40v-2.50M286.50 272.50v2.50M296.50 470.40v-2.50M296.50 272.50v2.50M306.50 470.40v-2.50M306.50 272.50v2.50M316.50 470.40v-2.50M316.50 272.50v2.50M326.50 470.40v-3.70M326.50 272.50v3.70M336.50 470.40v-2.50M336.50 272.50v2.50M346.50 470.40v-2.50M346.50 272.50v2.50M356.50 470.40v-2.50M356.50 272.50v2.50M366.50 470.40v-2.50M366.50 272.50v2.50M376.50 470.40v-3.70M376.50 272.50v3.70M56.50 272.50h3.70M376.50 272.50h-3.70M56.50 276.57h2.50M376.50 276.57h-2.50M56.50 281.12h2.50M376.50 281.12h-2.50M56.50 286.29h2.50M376.50 286.29h-2.50M56.50 292.24h2.50M376.50 292.24h-2.50M56.50 299.29h3.70M376.50 299.29h-3.70M56.50 307.92h2.50M376.50 307.92h-2.50M56.50 319.04h2.50M376.50 319.04h-2.50M56.50 334.71h2.50M376.50 334.71h-2.50M56.50 361.50h3.70M376.50 361.50h-3.70M56.50 365.57h2.50M376.50 365.57h-2.50M56.50 370.12h2.50M376.50 370.12h-2.50M56.50 375.29h2.50M376.50 375.29h-2.50M56.50 381.24h2.50M376.50 381.24h-2.50M56.50 388.29h3.70M376.50 388.29h-3.70M56.50 396.92h2.50M376.50 396.92h-2.50M56.50 408.04h2.50M376.50 408.04h-2.50M56.50 423.71h2.50M376.50 423.71h-2.50M56.50 450.50h3.70M376.50 450.50h-3.70M56.50 454.57h2.50M376.50 454.57h-2.50M56.50 459.12h2.50M376.50 459.12h-2.50M56.50 464.29h2.50M376.50 464.29h-2.50" stroke="#606060" stroke-width="0.7" fill="none"/>
<rect x="56.50" y="272.50" width="320.00" height="197.90" fill="none" stroke="#606060" stroke-width="0.7"/>
<text transform="translate(76.50 485.00) scale(1 0.930)" text-anchor="middle">100</text>
<text transform="translate(126.50 485.00) scale(1 0.930)" text-anchor="middle">150</text>
<text transform="translate(176.50 485.00) scale(1 0.930)" text-anchor="middle">200</text>
<text transform="translate(226.50 485.00) scale(1 0.930)" text-anchor="middle">250</text>
<text transform="translate(276.50 485.00) scale(1 0.930)" text-anchor="middle">300</text>
<text transform="translate(326.50 485.00) scale(1 0.930)" text-anchor="middle">350</text>
<text transform="translate(376.50 485.00) scale(1 0.930)" text-anchor="middle">400</text>
<text transform="translate(52.65 276.50) scale(1 0.930)" text-anchor="end">10</text>
<text transform="translate(52.65 303.29) scale(1 0.930)" text-anchor="end">5</text>
<text transform="translate(52.65 365.50) scale(1 0.930)" text-anchor="end">1</text>
<text transform="translate(52.65 392.29) scale(1 0.930)" text-anchor="end">0.5</text>
<text transform="translate(52.65 454.50) scale(1 0.930)" text-anchor="end">0.1</text>
<text transform="translate(216.70 506.50) scale(1 0.930)" text-anchor="middle">T [MeV]</text>
<text transform="translate(25.40 371.65) rotate(-90)" text-anchor="middle" font-size="11.2"><tspan font-style="italic">η</tspan>T/<tspan font-style="italic">w</tspan></text>
<g clip-path="url(#c3)">
<path d="M56.50 277.00 L57.06 277.83 L57.63 278.66 L58.19 279.49 L58.76 280.32 L59.32 281.15 L59.89 281.98 L60.45 282.81 L61.02 283.64 L61.58 284.47 L62.14 285.30 L62.71 286.13 L63.27 286.96 L63.84 287.79 L64.40 288.62 L64.97 289.45 L65.53 290.28 L66.10 291.11 L66.66 291.94 L67.22 292.77 L67.79 293.60 L68.35 294.42 L68.92 295.25 L69.48 296.08 L70.05 296.91 L70.61 297.74 L71.18 298.57 L71.74 299.40 L72.30 300.23 L72.87 301.06 L73.43 301.89 L74.00 302.72 L74.56 303.55 L75.13 304.38 L75.69 305.21 L76.26 306.04 L76.82 306.87 L77.38 307.70 L77.95 308.53 L78.51 309.36 L79.08 310.19 L79.64 311.02 L80.21 311.85 L80.77 312.68 L81.34 313.51 L81.90 314.34 L82.47 315.17 L83.03 316.00 L83.59 316.83 L84.16 317.66 L84.72 318.49 L85.29 319.32 L85.85 320.15 L86.42 320.98 L86.98 321.81 L87.55 322.64 L88.11 323.47 L88.67 324.30 L89.24 325.13 L89.80 325.96 L90.37 326.79 L90.93 327.61 L91.50 328.44 L92.06 329.27 L92.63 330.10 L93.19 330.93 L93.75 331.76 L94.32 332.59 L94.88 333.42 L95.45 334.25 L96.01 335.08 L96.58 335.91 L97.14 336.74 L97.71 337.57 L98.27 338.40 L98.83 339.23 L99.40 340.06 L99.96 340.89 L100.53 341.72 L101.09 342.55 L101.66 343.38 L102.22 344.21 L102.79 345.04 L103.35 345.87 L103.91 346.70 L104.48 347.53 L105.04 348.36 L105.61 349.19 L106.17 350.02 L106.74 350.85 L107.30 351.68 L107.87 352.51 L108.43 353.34 L108.99 354.17 L109.56 355.00 L110.12 355.83 L110.69 356.66 L111.25 357.49 L111.82 358.32 L112.38 359.15 L112.95 359.98 L113.51 360.80 L114.07 361.63 L114.64 362.46 L115.20 363.29 L115.77 364.12 L116.33 364.95 L116.90 365.78 L117.46 366.61 L118.02 367.44 L118.59 368.27 L119.15 369.10 L119.72 369.93 L120.28 370.77 L120.84 371.60 L121.40 372.43 L121.97 373.26 L122.53 374.09 L123.09 374.92 L123.65 375.75 L124.22 376.58 L124.78 377.41 L125.34 378.25 L125.90 379.08 L126.47 379.91 L127.03 380.74 L127.59 381.57 L128.15 382.40 L128.71 383.23 L129.28 384.06 L129.84 384.90 L130.40 385.73 L130.96 386.56 L131.53 387.39 L132.09 388.22 L132.65 389.05 L133.22 389.88 L133.78 390.71 L134.34 391.54 L134.91 392.37 L135.47 393.20 L136.03 394.03 L136.60 394.86 L137.16 395.69 L137.73 396.52 L138.29 397.35 L138.86 398.18 L139.43 399.01 L139.99 399.84 L140.56 400.67 L141.12 401.49 L141.69 402.32 L142.26 403.15 L142.83 403.98 L143.40 404.80 L143.97 405.63 L144.53 406.46 L145.10 407.28 L145.67 408.11 L146.25 408.93 L146.82 409.76 L147.40 410.58 L147.98 411.40 L148.56 412.21 L149.14 413.03 L149.72 413.86 L150.28 414.68 L150.84 415.51 L151.39 416.35 L151.94 417.19 L152.48 418.04 L153.02 418.89 L153.55 419.74 L154.08 420.59 L154.61 421.44 L155.14 422.30 L155.67 423.15 L156.19 424.00 L156.72 424.86 L157.25 425.71 L157.78 426.57 L158.30 427.42 L158.83 428.28 L159.35 429.13 L159.87 429.99 L160.39 430.85 L160.91 431.71 L161.43 432.56 L161.95 433.42 L162.47 434.28 L162.99 435.14 L163.51 436.00 L164.02 436.86 L164.54 437.72 L165.05 438.58 L165.57 439.44 L166.08 440.31 L166.60 441.17 L167.12 442.02 L167.65 442.88 L168.18 443.74 L168.70 444.59 L169.21 445.46 L169.70 446.33 L170.17 447.21 L170.63 448.10 L171.09 449.00 L171.53 449.90 L171.96 450.81 L172.37 451.73 L172.78 452.64 L173.17 453.57 L173.55 454.49 L173.92 455.42 L174.28 456.36 L174.63 457.30 L174.97 458.25 L175.30 459.20 L176.31 459.16 L177.31 459.10 L178.31 459.02 L179.30 458.91 L180.29 458.76 L181.28 458.57 L182.27 458.36 L183.25 458.15 L184.23 457.94 L185.21 457.72 L186.19 457.49 L187.16 457.24 L188.14 456.99 L189.11 456.74 L190.08 456.48 L191.05 456.22 L192.02 455.96 L192.99 455.70 L193.96 455.43 L194.92 455.16 L195.89 454.88 L196.85 454.61 L197.82 454.32 L198.78 454.04 L199.74 453.75 L200.70 453.45 L201.66 453.15 L202.61 452.85 L203.57 452.54 L204.52 452.22 L205.47 451.90 L206.42 451.57 L207.37 451.25 L208.31 450.91 L209.26 450.58 L210.21 450.24 L211.15 449.90 L212.10 449.55 L213.04 449.21 L213.98 448.86 L214.93 448.52 L215.87 448.17 L216.81 447.82 L217.75 447.47 L218.70 447.13 L219.64 446.78 L220.58 446.43 L221.53 446.09 L222.47 445.75 L223.41 445.40 L224.35 445.05 L225.29 444.69 L226.23 444.34 L227.17 443.98 L228.11 443.62 L229.05 443.27 L229.99 442.91 L230.93 442.55 L231.86 442.19 L232.80 441.84 L233.74 441.48 L234.69 441.13 L235.63 440.79 L236.57 440.44 L237.51 440.10 L238.46 439.77 L239.41 439.44 L240.36 439.11 L241.31 438.80 L242.26 438.48 L243.21 438.16 L244.16 437.85 L245.12 437.54 L246.07 437.23 L247.03 436.92 L247.99 436.62 L248.94 436.32 L249.90 436.02 L250.86 435.72 L251.82 435.42 L252.78 435.13 L253.74 434.83 L254.70 434.54 L255.66 434.25 L256.62 433.96 L257.59 433.67 L258.55 433.38 L259.51 433.09 L260.48 432.81 L261.44 432.53 L262.40 432.24 L263.37 431.96 L264.33 431.68 L265.30 431.40 L266.26 431.12 L267.22 430.84 L268.19 430.56 L269.15 430.28 L270.12 430.00 L271.08 429.72 L272.05 429.44 L273.01 429.16 L273.98 428.89 L274.94 428.61 L275.91 428.33 L276.87 428.06 L277.84 427.78 L278.80 427.51 L279.77 427.23 L280.74 426.96 L281.70 426.69 L282.67 426.42 L283.64 426.15 L284.61 425.88 L285.57 425.61 L286.54 425.34 L287.51 425.08 L288.48 424.81 L289.45 424.55 L290.42 424.29 L291.39 424.03 L292.36 423.77 L293.33 423.51 L294.30 423.26 L295.27 423.00 L296.24 422.75 L297.22 422.50 L298.19 422.26 L299.16 422.01 L300.13 421.77 L301.11 421.52 L302.08 421.28 L303.06 421.04 L304.03 420.81 L305.01 420.57 L305.98 420.33 L306.96 420.10 L307.94 419.87 L308.91 419.63 L309.89 419.40 L310.87 419.17 L311.85 418.94 L312.83 418.72 L313.80 418.49 L314.78 418.27 L315.76 418.04 L316.74 417.82 L317.72 417.60 L318.70 417.38 L319.68 417.16 L320.66 416.94 L321.64 416.72 L322.62 416.51 L323.60 416.29 L324.59 416.08 L325.57 415.87 L326.55 415.66 L327.53 415.44 L328.51 415.24 L329.49 415.03 L330.48 414.82 L331.46 414.61 L332.44 414.41 L333.42 414.20 L334.41 414.00 L335.39 413.79 L336.37 413.59 L337.36 413.39 L338.34 413.19 L339.33 412.99 L340.31 412.79 L341.30 412.59 L342.28 412.39 L343.27 412.20 L344.25 412.01 L345.24 411.82 L346.23 411.64 L347.21 411.45 L348.20 411.27 L349.19 411.10 L350.18 410.93 L351.17 410.76 L352.16 410.59 L353.15 410.43 L354.14 410.26 L355.13 410.10 L356.12 409.94 L357.11 409.78 L358.10 409.63 L359.09 409.47 L360.08 409.32 L361.08 409.16 L362.07 409.01 L363.06 408.87 L364.05 408.72 L365.05 408.57 L366.04 408.43 L367.04 408.29 L368.03 408.15 L369.03 408.01 L370.02 407.88 L371.02 407.75 L372.01 407.62 L373.01 407.49 L374.01 407.36 L375.00 407.24 L376.00 407.12 L377.00 407.00" fill="none" stroke="#000000" stroke-width="2.90" stroke-linejoin="miter"/>
<path d="M56.50 277.00 L57.05 277.83 L57.61 278.67 L58.16 279.50 L58.71 280.34 L59.27 281.17 L59.82 282.01 L60.37 282.84 L60.92 283.68 L61.48 284.51 L62.03 285.35 L62.58 286.18 L63.13 287.02 L63.68 287.85 L64.24 288.69 L64.79 289.53 L65.34 290.36 L65.89 291.20 L66.44 292.03 L66.99 292.87 L67.54 293.70 L68.09 294.54 L68.65 295.38 L69.20 296.21 L69.75 297.05 L70.30 297.89 L70.85 298.72 L71.40 299.56 L71.95 300.40 L72.50 301.23 L73.05 302.07 L73.60 302.91 L74.15 303.74 L74.70 304.58 L75.24 305.42 L75.79 306.25 L76.34 307.09 L76.89 307.93 L77.44 308.77 L77.99 309.60 L78.54 310.44 L79.09 311.28 L79.63 312.12 L80.18 312.96 L80.73 313.79 L81.28 314.63 L81.83 315.47 L82.37 316.31 L82.92 317.15 L83.47 317.98 L84.01 318.82 L84.56 319.66 L85.11 320.50 L85.66 321.34 L86.20 322.18 L86.75 323.02 L87.29 323.86 L87.84 324.70 L88.38 325.54 L88.93 326.38 L89.47 327.22 L90.02 328.06 L90.56 328.90 L91.11 329.74 L91.65 330.58 L92.19 331.42 L92.74 332.26 L93.28 333.10 L93.82 333.94 L94.36 334.78 L94.91 335.63 L95.45 336.47 L95.99 337.31 L96.53 338.15 L97.07 338.99 L97.62 339.84 L98.16 340.68 L98.70 341.52 L99.24 342.36 L99.78 343.20 L100.33 344.05 L100.87 344.89 L101.41 345.73 L101.95 346.57 L102.49 347.41 L103.04 348.25 L103.58 349.10 L104.12 349.94 L104.66 350.78 L105.20 351.62 L105.75 352.46 L106.29 353.30 L106.83 354.15 L107.38 354.99 L107.92 355.83 L108.46 356.67 L109.01 357.51 L109.55 358.35 L110.09 359.19 L110.64 360.03 L111.18 360.87 L111.73 361.71 L112.27 362.55 L112.82 363.39 L113.37 364.23 L113.91 365.07 L114.46 365.91 L115.01 366.75 L115.55 367.58 L116.10 368.42 L116.64 369.26 L117.19 370.10 L117.73 370.94 L118.28 371.78 L118.82 372.62 L119.37 373.46 L119.91 374.30 L120.46 375.15 L121.00 375.99 L121.55 376.83 L122.09 377.67 L122.63 378.51 L123.18 379.35 L123.72 380.19 L124.27 381.03 L124.81 381.87 L125.36 382.71 L125.90 383.55 L126.45 384.39 L127.00 385.23 L127.54 386.07 L128.09 386.91 L128.64 387.75 L129.18 388.58 L129.73 389.42 L130.28 390.26 L130.83 391.10 L131.38 391.94 L131.93 392.77 L132.48 393.61 L133.03 394.45 L133.58 395.28 L134.13 396.12 L134.68 396.95 L135.24 397.79 L135.79 398.62 L136.34 399.45 L136.90 400.29 L137.46 401.12 L138.01 401.95 L138.57 402.78 L139.13 403.61 L139.69 404.44 L140.25 405.27 L140.81 406.10 L141.38 406.93 L141.94 407.75 L142.51 408.58 L143.07 409.40 L143.64 410.23 L144.22 411.04 L144.81 411.86 L145.40 412.67 L145.99 413.48 L146.58 414.29 L147.18 415.09 L147.77 415.90 L148.36 416.71 L148.95 417.52 L149.53 418.34 L150.11 419.16 L150.68 419.98 L151.23 420.81 L151.78 421.64 L152.32 422.49 L152.84 423.34 L153.36 424.19 L153.87 425.05 L154.37 425.92 L154.86 426.79 L155.35 427.67 L155.83 428.55 L156.30 429.44 L157.28 429.22 L158.26 429.00 L159.24 428.79 L160.22 428.57 L161.20 428.36 L162.18 428.14 L163.16 427.93 L164.15 427.71 L165.13 427.49 L166.11 427.28 L167.09 427.06 L168.07 426.85 L169.05 426.63 L170.03 426.41 L171.01 426.20 L171.99 425.98 L172.97 425.77 L173.95 425.55 L174.93 425.34 L175.91 425.12 L176.90 424.91 L177.88 424.69 L178.86 424.47 L179.84 424.26 L180.82 424.04 L181.80 423.83 L182.78 423.61 L183.76 423.40 L184.74 423.18 L185.72 422.97 L186.70 422.75 L187.68 422.53 L188.66 422.32 L189.65 422.10 L190.63 421.89 L191.61 421.67 L192.59 421.46 L193.57 421.24 L194.55 421.03 L195.53 420.81 L196.51 420.60 L197.49 420.38 L198.47 420.17 L199.45 419.95 L200.43 419.74 L201.41 419.52 L202.40 419.31 L203.38 419.09 L204.36 418.87 L205.34 418.66 L206.32 418.44 L207.30 418.23 L208.28 418.01 L209.26 417.80 L210.24 417.58 L211.22 417.37 L212.20 417.15 L213.18 416.93 L214.16 416.71 L215.14 416.49 L216.12 416.28 L217.10 416.06 L218.08 415.84 L219.06 415.62 L220.04 415.40 L221.02 415.18 L222.00 414.96 L222.98 414.74 L223.96 414.52 L224.94 414.30 L225.92 414.08 L226.90 413.86 L227.88 413.64 L228.86 413.42 L229.84 413.20 L230.83 412.99 L231.81 412.77 L232.79 412.55 L233.77 412.34 L234.75 412.13 L235.73 411.91 L236.71 411.70 L237.69 411.49 L238.67 411.28 L239.66 411.07 L240.64 410.86 L241.62 410.65 L242.60 410.44 L243.59 410.24 L244.57 410.04 L245.55 409.83 L246.54 409.63 L247.52 409.43 L248.50 409.24 L249.49 409.04 L250.47 408.84 L251.46 408.65 L252.44 408.45 L253.43 408.26 L254.41 408.07 L255.40 407.88 L256.39 407.69 L257.37 407.50 L258.36 407.31 L259.34 407.12 L260.33 406.93 L261.32 406.74 L262.30 406.56 L263.29 406.37 L264.28 406.19 L265.27 406.00 L266.25 405.82 L267.24 405.63 L268.23 405.45 L269.22 405.27 L270.20 405.09 L271.19 404.91 L272.18 404.72 L273.17 404.54 L274.15 404.36 L275.14 404.18 L276.13 404.00 L277.12 403.82 L278.11 403.64 L279.09 403.46 L280.08 403.29 L281.07 403.11 L282.06 402.93 L283.05 402.75 L284.03 402.57 L285.02 402.39 L286.01 402.21 L287.00 402.03 L287.99 401.86 L288.98 401.68 L289.97 401.51 L290.95 401.33 L291.94 401.16 L292.93 400.99 L293.92 400.81 L294.91 400.64 L295.90 400.48 L296.89 400.31 L297.88 400.15 L298.87 399.98 L299.86 399.82 L300.86 399.66 L301.85 399.50 L302.84 399.35 L303.83 399.19 L304.82 399.03 L305.81 398.88 L306.81 398.72 L307.80 398.57 L308.79 398.41 L309.78 398.26 L310.78 398.11 L311.77 397.96 L312.76 397.81 L313.75 397.66 L314.75 397.51 L315.74 397.36 L316.73 397.22 L317.73 397.07 L318.72 396.92 L319.72 396.78 L320.71 396.63 L321.70 396.49 L322.70 396.35 L323.69 396.20 L324.69 396.06 L325.68 395.92 L326.68 395.78 L327.67 395.64 L328.66 395.50 L329.66 395.37 L330.65 395.23 L331.65 395.09 L332.64 394.96 L333.64 394.82 L334.63 394.69 L335.63 394.56 L336.62 394.42 L337.62 394.29 L338.61 394.16 L339.61 394.03 L340.61 393.90 L341.60 393.77 L342.60 393.64 L343.59 393.51 L344.59 393.38 L345.58 393.25 L346.58 393.13 L347.58 393.00 L348.57 392.87 L349.57 392.75 L350.56 392.62 L351.56 392.50 L352.56 392.38 L353.55 392.25 L354.55 392.13 L355.55 392.01 L356.54 391.89 L357.54 391.77 L358.54 391.65 L359.54 391.53 L360.53 391.41 L361.53 391.29 L362.53 391.17 L363.53 391.06 L364.52 390.94 L365.52 390.82 L366.52 390.71 L367.52 390.60 L368.51 390.48 L369.51 390.37 L370.51 390.26 L371.51 390.15 L372.51 390.04 L373.50 389.93 L374.50 389.82 L375.50 389.71 L376.50 389.60" fill="none" stroke="#aa0000" stroke-width="2.90" stroke-linejoin="bevel" stroke-dasharray="12.6 6.6" stroke-dashoffset="-1.5"/>
<path d="M56.50 281.10 L56.98 281.98 L57.47 282.86 L57.95 283.73 L58.44 284.61 L58.92 285.49 L59.41 286.37 L59.89 287.24 L60.38 288.12 L60.87 289.00 L61.36 289.87 L61.84 290.75 L62.33 291.62 L62.82 292.50 L63.31 293.37 L63.80 294.25 L64.29 295.12 L64.78 296.00 L65.28 296.87 L65.77 297.75 L66.26 298.62 L66.75 299.49 L67.25 300.37 L67.74 301.24 L68.23 302.11 L68.73 302.98 L69.22 303.86 L69.72 304.73 L70.21 305.60 L70.71 306.47 L71.20 307.34 L71.70 308.21 L72.20 309.08 L72.70 309.95 L73.19 310.82 L73.69 311.69 L74.19 312.56 L74.69 313.43 L75.19 314.30 L75.69 315.17 L76.19 316.04 L76.69 316.91 L77.19 317.78 L77.69 318.65 L78.19 319.52 L78.69 320.38 L79.19 321.25 L79.70 322.12 L80.20 322.99 L80.70 323.86 L81.20 324.72 L81.70 325.59 L82.21 326.46 L82.71 327.33 L83.21 328.19 L83.72 329.06 L84.22 329.93 L84.72 330.80 L85.23 331.66 L85.74 332.53 L86.24 333.39 L86.75 334.26 L87.26 335.12 L87.77 335.99 L88.28 336.85 L88.79 337.71 L89.30 338.57 L89.82 339.43 L90.33 340.29 L90.85 341.15 L91.37 342.01 L91.89 342.87 L92.41 343.72 L92.93 344.58 L93.46 345.43 L93.99 346.28 L94.52 347.13 L95.05 347.98 L95.59 348.83 L96.12 349.67 L96.66 350.52 L97.21 351.36 L97.75 352.20 L98.30 353.04 L98.84 353.89 L99.39 354.72 L99.94 355.56 L100.49 356.40 L101.04 357.24 L101.59 358.08 L102.14 358.92 L102.69 359.76 L103.24 360.59 L103.79 361.43 L104.34 362.27 L104.89 363.11 L105.44 363.95 L105.98 364.79 L106.53 365.64 L107.07 366.48 L107.61 367.33 L108.15 368.17 L108.68 369.02 L109.22 369.87 L109.75 370.72 L110.28 371.57 L110.81 372.42 L111.34 373.27 L111.87 374.12 L112.40 374.97 L113.40 374.94 L114.40 374.90 L115.41 374.87 L116.41 374.83 L117.41 374.79 L118.41 374.75 L119.42 374.72 L120.42 374.68 L121.42 374.64 L122.42 374.60 L123.42 374.56 L124.42 374.51 L125.43 374.47 L126.43 374.43 L127.43 374.38 L128.43 374.34 L129.43 374.30 L130.44 374.25 L131.44 374.21 L132.44 374.16 L133.44 374.11 L134.44 374.06 L135.44 374.02 L136.44 373.97 L137.45 373.92 L138.45 373.87 L139.45 373.82 L140.45 373.77 L141.45 373.72 L142.45 373.67 L143.45 373.62 L144.45 373.56 L145.46 373.51 L146.46 373.46 L147.46 373.40 L148.46 373.35 L149.46 373.30 L150.46 373.24 L151.46 373.19 L152.46 373.13 L153.46 373.07 L154.46 373.02 L155.47 372.96 L156.47 372.90 L157.47 372.85 L158.47 372.79 L159.47 372.73 L160.47 372.67 L161.47 372.61 L162.47 372.56 L163.47 372.50 L164.47 372.44 L165.47 372.38 L166.47 372.32 L167.47 372.26 L168.47 372.20 L169.47 372.13 L170.47 372.07 L171.48 372.01 L172.48 371.95 L173.48 371.89 L174.48 371.83 L175.48 371.76 L176.48 371.70 L177.48 371.63 L178.48 371.57 L179.48 371.50 L180.48 371.43 L181.48 371.36 L182.48 371.28 L183.48 371.21 L184.48 371.14 L185.48 371.06 L186.48 370.98 L187.47 370.91 L188.47 370.83 L189.47 370.75 L190.47 370.67 L191.47 370.59 L192.47 370.51 L193.47 370.43 L194.47 370.35 L195.47 370.27 L196.47 370.19 L197.47 370.11 L198.47 370.02 L199.47 369.94 L200.47 369.86 L201.47 369.78 L202.47 369.70 L203.47 369.62 L204.46 369.54 L205.46 369.46 L206.46 369.39 L207.46 369.31 L208.46 369.23 L209.46 369.16 L210.46 369.08 L211.46 369.01 L212.46 368.93 L213.46 368.86 L214.46 368.78 L215.46 368.71 L216.46 368.63 L217.46 368.56 L218.46 368.48 L219.46 368.41 L220.46 368.33 L221.46 368.26 L222.46 368.18 L223.46 368.11 L224.46 368.03 L225.46 367.96 L226.46 367.89 L227.46 367.81 L228.46 367.74 L229.46 367.66 L230.46 367.59 L231.46 367.51 L232.46 367.44 L233.46 367.37 L234.46 367.29 L235.46 367.22 L236.46 367.14 L237.46 367.07 L238.46 367.00 L239.46 366.92 L240.45 366.85 L241.45 366.78 L242.45 366.70 L243.45 366.63 L244.45 366.55 L245.45 366.48 L246.45 366.41 L247.45 366.33 L248.45 366.26 L249.45 366.19 L250.45 366.11 L251.45 366.04 L252.45 365.96 L253.45 365.89 L254.45 365.81 L255.45 365.74 L256.45 365.66 L257.45 365.59 L258.45 365.51 L259.45 365.44 L260.45 365.36 L261.45 365.29 L262.45 365.21 L263.45 365.14 L264.45 365.06 L265.45 364.99 L266.45 364.91 L267.45 364.84 L268.45 364.76 L269.45 364.69 L270.45 364.61 L271.45 364.54 L272.45 364.47 L273.45 364.39 L274.45 364.32 L275.45 364.24 L276.45 364.17 L277.45 364.09 L278.45 364.02 L279.45 363.95 L280.45 363.87 L281.45 363.80 L282.45 363.73 L283.45 363.66 L284.44 363.58 L285.44 363.51 L286.44 363.44 L287.44 363.37 L288.44 363.30 L289.44 363.23 L290.44 363.16 L291.44 363.09 L292.44 363.02 L293.44 362.95 L294.44 362.88 L295.45 362.81 L296.45 362.74 L297.45 362.67 L298.45 362.60 L299.45 362.54 L300.45 362.47 L301.45 362.40 L302.45 362.34 L303.45 362.27 L304.45 362.21 L305.45 362.14 L306.45 362.08 L307.45 362.01 L308.45 361.95 L309.45 361.89 L310.45 361.82 L311.45 361.76 L312.45 361.70 L313.45 361.64 L314.45 361.57 L315.45 361.51 L316.45 361.45 L317.45 361.39 L318.46 361.33 L319.46 361.27 L320.46 361.21 L321.46 361.15 L322.46 361.09 L323.46 361.03 L324.46 360.97 L325.46 360.90 L326.46 360.84 L327.46 360.78 L328.46 360.72 L329.46 360.66 L330.46 360.60 L331.46 360.55 L332.47 360.49 L333.47 360.43 L334.47 360.37 L335.47 360.31 L336.47 360.25 L337.47 360.19 L338.47 360.13 L339.47 360.07 L340.47 360.01 L341.47 359.95 L342.47 359.89 L343.47 359.83 L344.47 359.77 L345.47 359.71 L346.48 359.65 L347.48 359.59 L348.48 359.53 L349.48 359.47 L350.48 359.41 L351.48 359.35 L352.48 359.29 L353.48 359.23 L354.48 359.17 L355.48 359.12 L356.48 359.06 L357.48 359.00 L358.48 358.94 L359.49 358.88 L360.49 358.82 L361.49 358.76 L362.49 358.71 L363.49 358.65 L364.49 358.59 L365.49 358.53 L366.49 358.47 L367.49 358.42 L368.49 358.36 L369.49 358.30 L370.49 358.24 L371.50 358.19 L372.50 358.13 L373.50 358.07 L374.50 358.01 L375.50 357.96 L376.50 357.90" fill="none" stroke="#0000ff" stroke-width="2.90" stroke-linejoin="bevel" stroke-dasharray="8 3.3 3.4 3.3" stroke-dashoffset="3.0"/>
<path d="M56.50 301.30 L67.10 323.80 L68.10 323.78 L69.10 323.75 L70.10 323.73 L71.11 323.71 L72.11 323.68 L73.11 323.66 L74.11 323.64 L75.11 323.61 L76.11 323.59 L77.11 323.57 L78.11 323.55 L79.12 323.52 L80.12 323.50 L81.12 323.48 L82.12 323.46 L83.12 323.44 L84.12 323.42 L85.12 323.39 L86.12 323.37 L87.13 323.35 L88.13 323.33 L89.13 323.31 L90.13 323.29 L91.13 323.27 L92.13 323.25 L93.13 323.23 L94.14 323.21 L95.14 323.20 L96.14 323.18 L97.14 323.16 L98.14 323.14 L99.14 323.12 L100.14 323.11 L101.14 323.09 L102.15 323.07 L103.15 323.06 L104.15 323.04 L105.15 323.02 L106.15 323.01 L107.15 322.99 L108.15 322.97 L109.16 322.96 L110.16 322.94 L111.16 322.93 L112.16 322.91 L113.16 322.90 L114.16 322.88 L115.16 322.86 L116.17 322.85 L117.17 322.83 L118.17 322.82 L119.17 322.80 L120.17 322.79 L121.17 322.77 L122.17 322.76 L123.18 322.74 L124.18 322.73 L125.18 322.71 L126.18 322.69 L127.18 322.68 L128.18 322.66 L129.18 322.65 L130.19 322.63 L131.19 322.61 L132.19 322.60 L133.19 322.58 L134.19 322.56 L135.19 322.54 L136.19 322.53 L137.20 322.51 L138.20 322.49 L139.20 322.48 L140.20 322.46 L141.20 322.44 L142.20 322.43 L143.20 322.41 L144.21 322.39 L145.21 322.38 L146.21 322.36 L147.21 322.34 L148.21 322.32 L149.21 322.31 L150.21 322.29 L151.21 322.27 L152.22 322.26 L153.22 322.24 L154.22 322.22 L155.22 322.21 L156.22 322.19 L157.22 322.17 L158.22 322.15 L159.23 322.14 L160.23 322.12 L161.23 322.10 L162.23 322.09 L163.23 322.07 L164.23 322.05 L165.23 322.03 L166.24 322.02 L167.24 322.00 L168.24 321.98 L169.24 321.96 L170.24 321.95 L171.24 321.93 L172.24 321.91 L173.25 321.89 L174.25 321.88 L175.25 321.86 L176.25 321.84 L177.25 321.82 L178.25 321.80 L179.25 321.79 L180.26 321.77 L181.26 321.75 L182.26 321.73 L183.26 321.71 L184.26 321.70 L185.26 321.68 L186.26 321.66 L187.26 321.64 L188.27 321.62 L189.27 321.60 L190.27 321.58 L191.27 321.57 L192.27 321.55 L193.27 321.53 L194.27 321.51 L195.28 321.49 L196.28 321.47 L197.28 321.45 L198.28 321.43 L199.28 321.41 L200.28 321.39 L201.28 321.37 L202.28 321.35 L203.29 321.33 L204.29 321.32 L205.29 321.30 L206.29 321.28 L207.29 321.25 L208.29 321.23 L209.29 321.21 L210.30 321.19 L211.30 321.17 L212.30 321.15 L213.30 321.13 L214.30 321.11 L215.30 321.09 L216.30 321.07 L217.30 321.05 L218.31 321.03 L219.31 321.00 L220.31 320.98 L221.31 320.96 L222.31 320.94 L223.31 320.92 L224.31 320.89 L225.32 320.87 L226.32 320.85 L227.32 320.83 L228.32 320.80 L229.32 320.78 L230.32 320.76 L231.32 320.74 L232.32 320.71 L233.33 320.69 L234.33 320.67 L235.33 320.64 L236.33 320.62 L237.33 320.60 L238.33 320.57 L239.33 320.55 L240.33 320.53 L241.34 320.50 L242.34 320.48 L243.34 320.45 L244.34 320.43 L245.34 320.41 L246.34 320.38 L247.34 320.36 L248.34 320.33 L249.35 320.31 L250.35 320.28 L251.35 320.26 L252.35 320.24 L253.35 320.21 L254.35 320.19 L255.35 320.16 L256.35 320.14 L257.36 320.11 L258.36 320.09 L259.36 320.06 L260.36 320.04 L261.36 320.01 L262.36 319.99 L263.36 319.96 L264.36 319.94 L265.37 319.91 L266.37 319.89 L267.37 319.86 L268.37 319.84 L269.37 319.81 L270.37 319.79 L271.37 319.76 L272.37 319.74 L273.37 319.71 L274.38 319.69 L275.38 319.66 L276.38 319.64 L277.38 319.61 L278.38 319.59 L279.38 319.56 L280.38 319.54 L281.38 319.51 L282.39 319.49 L283.39 319.46 L284.39 319.44 L285.39 319.41 L286.39 319.39 L287.39 319.36 L288.39 319.34 L289.39 319.31 L290.40 319.29 L291.40 319.26 L292.40 319.24 L293.40 319.21 L294.40 319.19 L295.40 319.16 L296.40 319.14 L297.40 319.11 L298.41 319.09 L299.41 319.06 L300.41 319.04 L301.41 319.01 L302.41 318.99 L303.41 318.96 L304.41 318.94 L305.41 318.91 L306.42 318.89 L307.42 318.86 L308.42 318.84 L309.42 318.81 L310.42 318.79 L311.42 318.76 L312.42 318.74 L313.42 318.71 L314.43 318.69 L315.43 318.66 L316.43 318.64 L317.43 318.61 L318.43 318.59 L319.43 318.56 L320.43 318.54 L321.43 318.51 L322.43 318.49 L323.44 318.46 L324.44 318.44 L325.44 318.41 L326.44 318.39 L327.44 318.36 L328.44 318.34 L329.44 318.31 L330.44 318.29 L331.45 318.26 L332.45 318.24 L333.45 318.21 L334.45 318.18 L335.45 318.16 L336.45 318.13 L337.45 318.11 L338.45 318.08 L339.46 318.06 L340.46 318.03 L341.46 318.01 L342.46 317.98 L343.46 317.96 L344.46 317.93 L345.46 317.90 L346.46 317.88 L347.47 317.85 L348.47 317.83 L349.47 317.80 L350.47 317.78 L351.47 317.75 L352.47 317.72 L353.47 317.70 L354.47 317.67 L355.47 317.65 L356.48 317.62 L357.48 317.59 L358.48 317.57 L359.48 317.54 L360.48 317.52 L361.48 317.49 L362.48 317.47 L363.48 317.44 L364.49 317.41 L365.49 317.39 L366.49 317.36 L367.49 317.34 L368.49 317.31 L369.49 317.28 L370.49 317.26 L371.49 317.23 L372.50 317.20 L373.50 317.18 L374.50 317.15 L375.50 317.13 L376.50 317.10" fill="none" stroke="#996633" stroke-width="2.90" stroke-linejoin="bevel" stroke-dasharray="4.7 3.3"/>
</g>
<clipPath id="c4"><rect x="483.00" y="270.50" width="324.50" height="201.90"/></clipPath>
<path d="M485.00 470.40v-2.50M485.00 272.50v2.50M495.02 470.40v-2.50M495.02 272.50v2.50M505.03 470.40v-3.70M505.03 272.50v3.70M515.05 470.40v-2.50M515.05 272.50v2.50M525.06 470.40v-2.50M525.06 272.50v2.50M535.08 470.40v-2.50M535.08 272.50v2.50M545.09 470.40v-2.50M545.09 272.50v2.50M555.11 470.40v-3.70M555.11 272.50v3.70M565.12 470.40v-2.50M565.12 272.50v2.50M575.14 470.40v-2.50M575.14 272.50v2.50M585.16 470.40v-2.50M585.16 272.50v2.50M595.17 470.40v-2.50M595.17 272.50v2.50M605.19 470.40v-3.70M605.19 272.50v3.70M615.20 470.40v-2.50M615.20 272.50v2.50M625.22 470.40v-2.50M625.22 272.50v2.50M635.23 470.40v-2.50M635.23 272.50v2.50M645.25 470.40v-2.50M645.25 272.50v2.50M655.27 470.40v-3.70M655.27 272.50v3.70M665.28 470.40v-2.50M665.28 272.50v2.50M675.30 470.40v-2.50M675.30 272.50v2.50M685.31 470.40v-2.50M685.31 272.50v2.50M695.33 470.40v-2.50M695.33 272.50v2.50M705.34 470.40v-3.70M705.34 272.50v3.70M715.36 470.40v-2.50M715.36 272.50v2.50M725.38 470.40v-2.50M725.38 272.50v2.50M735.39 470.40v-2.50M735.39 272.50v2.50M745.41 470.40v-2.50M745.41 272.50v2.50M755.42 470.40v-3.70M755.42 272.50v3.70M765.44 470.40v-2.50M765.44 272.50v2.50M775.45 470.40v-2.50M775.45 272.50v2.50M785.47 470.40v-2.50M785.47 272.50v2.50M795.48 470.40v-2.50M795.48 272.50v2.50M805.50 470.40v-3.70M805.50 272.50v3.70M485.00 272.50h3.70M805.50 272.50h-3.70M485.00 276.57h2.50M805.50 276.57h-2.50M485.00 281.12h2.50M805.50 281.12h-2.50M485.00 286.29h2.50M805.50 286.29h-2.50M485.00 292.24h2.50M805.50 292.24h-2.50M485.00 299.29h3.70M805.50 299.29h-3.70M485.00 307.92h2.50M805.50 307.92h-2.50M485.00 319.04h2.50M805.50 319.04h-2.50M485.00 334.71h2.50M805.50 334.71h-2.50M485.00 361.50h3.70M805.50 361.50h-3.70M485.00 365.57h2.50M805.50 365.57h-2.50M485.00 370.12h2.50M805.50 370.12h-2.50M485.00 375.29h2.50M805.50 375.29h-2.50M485.00 381.24h2.50M805.50 381.24h-2.50M485.00 388.29h3.70M805.50 388.29h-3.70M485.00 396.92h2.50M805.50 396.92h-2.50M485.00 408.04h2.50M805.50 408.04h-2.50M485.00 423.71h2.50M805.50 423.71h-2.50M485.00 450.50h3.70M805.50 450.50h-3.70M485.00 454.57h2.50M805.50 454.57h-2.50M485.00 459.12h2.50M805.50 459.12h-2.50M485.00 464.29h2.50M805.50 464.29h-2.50" stroke="#606060" stroke-width="0.7" fill="none"/>
<rect x="485.00" y="272.50" width="320.50" height="197.90" fill="none" stroke="#606060" stroke-width="0.7"/>
<text transform="translate(505.03 485.00) scale(1 0.930)" text-anchor="middle">100</text>
<text transform="translate(555.11 485.00) scale(1 0.930)" text-anchor="middle">150</text>
<text transform="translate(605.19 485.00) scale(1 0.930)" text-anchor="middle">200</text>
<text transform="translate(655.27 485.00) scale(1 0.930)" text-anchor="middle">250</text>
<text transform="translate(705.34 485.00) scale(1 0.930)" text-anchor="middle">300</text>
<text transform="translate(755.42 485.00) scale(1 0.930)" text-anchor="middle">350</text>
<text transform="translate(805.50 485.00) scale(1 0.930)" text-anchor="middle">400</text>
<text transform="translate(481.15 276.50) scale(1 0.930)" text-anchor="end">10</text>
<text transform="translate(481.15 303.29) scale(1 0.930)" text-anchor="end">5</text>
<text transform="translate(481.15 365.50) scale(1 0.930)" text-anchor="end">1</text>
<text transform="translate(481.15 392.29) scale(1 0.930)" text-anchor="end">0.5</text>
<text transform="translate(481.15 454.50) scale(1 0.930)" text-anchor="end">0.1</text>
<text transform="translate(645.45 506.50) scale(1 0.930)" text-anchor="middle">T [MeV]</text>
<text transform="translate(453.90 371.65) rotate(-90)" text-anchor="middle" font-size="11.2"><tspan font-style="italic">η</tspan>T/<tspan font-style="italic">w</tspan></text>
<g clip-path="url(#c4)">
<path d="M485.00 277.00 L485.56 277.83 L486.13 278.66 L486.69 279.49 L487.26 280.32 L487.82 281.15 L488.39 281.98 L488.95 282.81 L489.52 283.64 L490.08 284.47 L490.64 285.30 L491.21 286.13 L491.77 286.96 L492.34 287.79 L492.90 288.62 L493.47 289.45 L494.03 290.28 L494.60 291.11 L495.16 291.94 L495.72 292.77 L496.29 293.60 L496.85 294.42 L497.42 295.25 L497.98 296.08 L498.55 296.91 L499.11 297.74 L499.68 298.57 L500.24 299.40 L500.80 300.23 L501.37 301.06 L501.93 301.89 L502.50 302.72 L503.06 303.55 L503.63 304.38 L504.19 305.21 L504.76 306.04 L505.32 306.87 L505.88 307.70 L506.45 308.53 L507.01 309.36 L507.58 310.19 L508.14 311.02 L508.71 311.85 L509.27 312.68 L509.84 313.51 L510.40 314.34 L510.97 315.17 L511.53 316.00 L512.09 316.83 L512.66 317.66 L513.22 318.49 L513.79 319.32 L514.35 320.15 L514.92 320.98 L515.48 321.81 L516.05 322.64 L516.61 323.47 L517.17 324.30 L517.74 325.13 L518.30 325.96 L518.87 326.79 L519.43 327.61 L520.00 328.44 L520.56 329.27 L521.13 330.10 L521.69 330.93 L522.25 331.76 L522.82 332.59 L523.38 333.42 L523.95 334.25 L524.51 335.08 L525.08 335.91 L525.64 336.74 L526.21 337.57 L526.77 338.40 L527.33 339.23 L527.90 340.06 L528.46 340.89 L529.03 341.72 L529.59 342.55 L530.16 343.38 L530.72 344.21 L531.29 345.04 L531.85 345.87 L532.41 346.70 L532.98 347.53 L533.54 348.36 L534.11 349.19 L534.67 350.02 L535.24 350.85 L535.80 351.68 L536.37 352.51 L536.93 353.34 L537.49 354.17 L538.06 355.00 L538.62 355.83 L539.19 356.66 L539.75 357.49 L540.32 358.32 L540.88 359.15 L541.45 359.98 L542.01 360.80 L542.57 361.63 L543.14 362.46 L543.70 363.29 L544.27 364.12 L544.83 364.95 L545.40 365.78 L545.96 366.61 L546.52 367.44 L547.09 368.27 L547.65 369.10 L548.22 369.93 L548.78 370.77 L549.34 371.60 L549.90 372.43 L550.47 373.26 L551.03 374.09 L551.59 374.92 L552.15 375.75 L552.72 376.58 L553.28 377.41 L553.84 378.25 L554.40 379.08 L554.97 379.91 L555.53 380.74 L556.09 381.57 L556.65 382.40 L557.21 383.23 L557.78 384.06 L558.34 384.90 L558.90 385.73 L559.46 386.56 L560.03 387.39 L560.59 388.22 L561.15 389.05 L561.72 389.88 L562.28 390.71 L562.84 391.54 L563.41 392.37 L563.97 393.20 L564.53 394.03 L565.10 394.86 L565.66 395.69 L566.23 396.52 L566.79 397.35 L567.36 398.18 L567.93 399.01 L568.49 399.84 L569.06 400.67 L569.62 401.49 L570.19 402.32 L570.76 403.15 L571.33 403.98 L571.90 404.80 L572.47 405.63 L573.03 406.46 L573.60 407.28 L574.17 408.11 L574.75 408.93 L575.32 409.76 L575.90 410.58 L576.48 411.40 L577.06 412.21 L577.64 413.03 L578.22 413.86 L578.78 414.68 L579.34 415.51 L579.89 416.35 L580.44 417.19 L580.98 418.04 L581.52 418.89 L582.05 419.74 L582.58 420.59 L583.11 421.44 L583.64 422.30 L584.17 423.15 L584.69 424.00 L585.22 424.86 L585.75 425.71 L586.28 426.57 L586.80 427.42 L587.33 428.28 L587.85 429.13 L588.37 429.99 L588.89 430.85 L589.41 431.71 L589.93 432.56 L590.45 433.42 L590.97 434.28 L591.49 435.14 L592.01 436.00 L592.52 436.86 L593.04 437.72 L593.55 438.58 L594.07 439.44 L594.58 440.31 L595.10 441.17 L595.62 442.02 L596.15 442.88 L596.68 443.74 L597.20 444.59 L597.71 445.46 L598.20 446.33 L598.67 447.21 L599.13 448.10 L599.59 449.00 L600.03 449.90 L600.46 450.81 L600.87 451.73 L601.28 452.64 L601.67 453.57 L602.05 454.49 L602.42 455.42 L602.78 456.36 L603.13 457.30 L603.47 458.25 L603.80 459.20 L604.81 459.16 L605.81 459.10 L606.81 459.02 L607.80 458.91 L608.79 458.76 L609.78 458.57 L610.77 458.36 L611.75 458.15 L612.73 457.94 L613.71 457.72 L614.69 457.49 L615.66 457.24 L616.64 456.99 L617.61 456.74 L618.58 456.48 L619.55 456.22 L620.52 455.96 L621.49 455.70 L622.46 455.43 L623.42 455.16 L624.39 454.88 L625.35 454.61 L626.32 454.32 L627.28 454.04 L628.24 453.75 L629.20 453.45 L630.16 453.15 L631.11 452.85 L632.07 452.54 L633.02 452.22 L633.97 451.90 L634.92 451.57 L635.87 451.25 L636.81 450.91 L637.76 450.58 L638.71 450.24 L639.65 449.90 L640.60 449.55 L641.54 449.21 L642.48 448.86 L643.43 448.52 L644.37 448.17 L645.31 447.82 L646.25 447.47 L647.20 447.13 L648.14 446.78 L649.08 446.43 L650.03 446.09 L650.97 445.75 L651.91 445.40 L652.85 445.05 L653.79 444.69 L654.73 444.34 L655.67 443.98 L656.61 443.62 L657.55 443.27 L658.49 442.91 L659.43 442.55 L660.36 442.19 L661.30 441.84 L662.24 441.48 L663.19 441.13 L664.13 440.79 L665.07 440.44 L666.01 440.10 L666.96 439.77 L667.91 439.44 L668.86 439.11 L669.81 438.80 L670.76 438.48 L671.71 438.16 L672.66 437.85 L673.62 437.54 L674.57 437.23 L675.53 436.92 L676.49 436.62 L677.44 436.32 L678.40 436.02 L679.36 435.72 L680.32 435.42 L681.28 435.13 L682.24 434.83 L683.20 434.54 L684.16 434.25 L685.12 433.96 L686.09 433.67 L687.05 433.38 L688.01 433.09 L688.98 432.81 L689.94 432.53 L690.90 432.24 L691.87 431.96 L692.83 431.68 L693.80 431.40 L694.76 431.12 L695.72 430.84 L696.69 430.56 L697.65 430.28 L698.62 430.00 L699.58 429.72 L700.55 429.44 L701.51 429.16 L702.48 428.89 L703.44 428.61 L704.41 428.33 L705.37 428.06 L706.34 427.78 L707.30 427.51 L708.27 427.23 L709.24 426.96 L710.20 426.69 L711.17 426.42 L712.14 426.15 L713.11 425.88 L714.07 425.61 L715.04 425.34 L716.01 425.08 L716.98 424.81 L717.95 424.55 L718.92 424.29 L719.89 424.03 L720.86 423.77 L721.83 423.51 L722.80 423.26 L723.77 423.00 L724.74 422.75 L725.72 422.50 L726.69 422.26 L727.66 422.01 L728.63 421.77 L729.61 421.52 L730.58 421.28 L731.56 421.04 L732.53 420.81 L733.51 420.57 L734.48 420.33 L735.46 420.10 L736.44 419.87 L737.41 419.63 L738.39 419.40 L739.37 419.17 L740.35 418.94 L741.33 418.72 L742.30 418.49 L743.28 418.27 L744.26 418.04 L745.24 417.82 L746.22 417.60 L747.20 417.38 L748.18 417.16 L749.16 416.94 L750.14 416.72 L751.12 416.51 L752.10 416.29 L753.09 416.08 L754.07 415.87 L755.05 415.66 L756.03 415.44 L757.01 415.24 L757.99 415.03 L758.98 414.82 L759.96 414.61 L760.94 414.41 L761.92 414.20 L762.91 414.00 L763.89 413.79 L764.87 413.59 L765.86 413.39 L766.84 413.19 L767.83 412.99 L768.81 412.79 L769.80 412.59 L770.78 412.39 L771.77 412.20 L772.75 412.01 L773.74 411.82 L774.73 411.64 L775.71 411.45 L776.70 411.27 L777.69 411.10 L778.68 410.93 L779.67 410.76 L780.66 410.59 L781.65 410.43 L782.64 410.26 L783.63 410.10 L784.62 409.94 L785.61 409.78 L786.60 409.63 L787.59 409.47 L788.58 409.32 L789.58 409.16 L790.57 409.01 L791.56 408.87 L792.55 408.72 L793.55 408.57 L794.54 408.43 L795.54 408.29 L796.53 408.15 L797.53 408.01 L798.52 407.88 L799.52 407.75 L800.51 407.62 L801.51 407.49 L802.51 407.36 L803.50 407.24 L804.50 407.12 L805.50 407.00" fill="none" stroke="#000000" stroke-width="2.90" stroke-linejoin="miter"/>
<path d="M485.00 277.00 L485.55 277.84 L486.11 278.67 L486.66 279.51 L487.22 280.35 L487.77 281.18 L488.33 282.02 L488.88 282.86 L489.44 283.70 L489.99 284.53 L490.54 285.37 L491.10 286.21 L491.65 287.04 L492.20 287.88 L492.76 288.72 L493.31 289.56 L493.86 290.40 L494.42 291.23 L494.97 292.07 L495.52 292.91 L496.07 293.75 L496.63 294.59 L497.18 295.42 L497.73 296.26 L498.28 297.10 L498.83 297.94 L499.38 298.78 L499.94 299.62 L500.49 300.46 L501.04 301.30 L501.59 302.13 L502.14 302.97 L502.69 303.81 L503.24 304.65 L503.79 305.49 L504.34 306.33 L504.89 307.17 L505.44 308.01 L505.99 308.85 L506.54 309.69 L507.09 310.53 L507.64 311.37 L508.19 312.21 L508.74 313.05 L509.29 313.89 L509.84 314.73 L510.39 315.57 L510.94 316.41 L511.49 317.25 L512.04 318.09 L512.59 318.93 L513.13 319.77 L513.68 320.61 L514.23 321.45 L514.78 322.30 L515.33 323.14 L515.87 323.98 L516.42 324.82 L516.97 325.66 L517.51 326.50 L518.06 327.35 L518.60 328.19 L519.15 329.03 L519.69 329.88 L520.24 330.72 L520.78 331.56 L521.33 332.41 L521.87 333.25 L522.42 334.09 L522.96 334.94 L523.51 335.78 L524.05 336.62 L524.59 337.47 L525.14 338.31 L525.68 339.16 L526.22 340.00 L526.77 340.84 L527.31 341.69 L527.85 342.53 L528.40 343.38 L528.94 344.22 L529.48 345.06 L530.03 345.91 L530.57 346.75 L531.11 347.60 L531.66 348.44 L532.20 349.29 L532.74 350.13 L533.29 350.97 L533.83 351.82 L534.37 352.66 L534.92 353.50 L535.46 354.35 L536.01 355.19 L536.55 356.03 L537.10 356.88 L537.64 357.72 L538.19 358.56 L538.73 359.40 L539.28 360.25 L539.83 361.09 L540.37 361.93 L540.92 362.77 L541.47 363.61 L542.01 364.46 L542.56 365.30 L543.11 366.14 L543.66 366.98 L544.21 367.82 L544.75 368.66 L545.30 369.50 L545.85 370.35 L546.39 371.19 L546.94 372.03 L547.48 372.87 L548.03 373.72 L548.58 374.56 L549.12 375.40 L549.67 376.24 L550.21 377.09 L550.76 377.93 L551.31 378.77 L551.85 379.62 L552.40 380.46 L552.94 381.30 L553.49 382.14 L554.04 382.98 L554.58 383.83 L555.13 384.67 L555.68 385.51 L556.23 386.35 L556.77 387.19 L557.32 388.03 L557.87 388.87 L558.42 389.72 L558.97 390.56 L559.52 391.40 L560.07 392.23 L560.62 393.07 L561.17 393.91 L561.73 394.75 L562.28 395.59 L562.83 396.43 L563.39 397.26 L563.94 398.10 L564.50 398.93 L565.06 399.77 L565.61 400.60 L566.17 401.44 L566.73 402.27 L567.29 403.10 L567.85 403.94 L568.41 404.77 L568.98 405.60 L569.54 406.43 L570.10 407.26 L570.67 408.09 L571.24 408.92 L571.81 409.74 L572.38 410.56 L572.97 411.38 L573.55 412.20 L574.15 413.01 L574.74 413.82 L575.34 414.63 L575.93 415.44 L576.53 416.25 L577.12 417.06 L577.71 417.88 L578.29 418.70 L578.86 419.52 L579.43 420.35 L579.98 421.18 L580.52 422.02 L581.05 422.87 L581.57 423.73 L582.08 424.59 L582.59 425.46 L583.08 426.33 L583.57 427.21 L584.06 428.09 L584.54 428.97 L585.03 429.85 L585.51 430.73 L586.00 431.61 L586.49 432.48 L586.98 433.36 L587.48 434.23 L587.97 435.11 L588.47 435.98 L588.96 436.85 L589.45 437.73 L589.94 438.60 L590.43 439.48 L590.92 440.36 L591.41 441.24 L591.89 442.12 L592.37 443.00 L592.85 443.88 L593.32 444.77 L593.80 445.65 L594.27 446.54 L594.73 447.43 L595.20 448.32 L596.15 447.98 L597.10 447.65 L598.04 447.32 L598.99 446.99 L599.94 446.66 L600.88 446.33 L601.83 445.99 L602.78 445.66 L603.73 445.33 L604.67 444.99 L605.62 444.65 L606.56 444.32 L607.51 443.98 L608.45 443.64 L609.40 443.30 L610.34 442.96 L611.29 442.63 L612.23 442.29 L613.18 441.95 L614.13 441.62 L615.07 441.29 L616.02 440.96 L616.97 440.63 L617.92 440.30 L618.87 439.98 L619.82 439.66 L620.77 439.34 L621.73 439.03 L622.68 438.71 L623.63 438.40 L624.59 438.09 L625.55 437.79 L626.50 437.48 L627.46 437.18 L628.42 436.88 L629.38 436.59 L630.34 436.30 L631.30 436.01 L632.26 435.72 L633.22 435.44 L634.18 435.15 L635.15 434.87 L636.11 434.59 L637.08 434.31 L638.04 434.04 L639.01 433.76 L639.97 433.49 L640.94 433.21 L641.90 432.94 L642.87 432.67 L643.84 432.40 L644.80 432.13 L645.77 431.86 L646.74 431.59 L647.71 431.33 L648.67 431.06 L649.64 430.79 L650.61 430.52 L651.58 430.26 L652.54 429.99 L653.51 429.72 L654.48 429.45 L655.45 429.18 L656.41 428.91 L657.38 428.64 L658.35 428.37 L659.31 428.10 L660.28 427.82 L661.24 427.55 L662.21 427.27 L663.17 426.99 L664.14 426.71 L665.10 426.43 L666.06 426.15 L667.03 425.87 L667.99 425.59 L668.96 425.30 L669.92 425.02 L670.88 424.74 L671.85 424.45 L672.81 424.17 L673.77 423.88 L674.73 423.60 L675.70 423.31 L676.66 423.03 L677.62 422.75 L678.59 422.46 L679.55 422.18 L680.52 421.90 L681.48 421.61 L682.44 421.33 L683.41 421.05 L684.37 420.78 L685.34 420.50 L686.30 420.22 L687.27 419.95 L688.23 419.67 L689.20 419.40 L690.16 419.13 L691.13 418.86 L692.10 418.59 L693.07 418.33 L694.03 418.07 L695.00 417.80 L695.97 417.55 L696.94 417.29 L697.91 417.04 L698.88 416.79 L699.85 416.54 L700.83 416.29 L701.80 416.04 L702.77 415.80 L703.74 415.55 L704.72 415.31 L705.69 415.07 L706.67 414.83 L707.64 414.58 L708.62 414.34 L709.59 414.10 L710.57 413.87 L711.54 413.63 L712.52 413.39 L713.49 413.16 L714.47 412.92 L715.45 412.69 L716.43 412.46 L717.40 412.23 L718.38 412.00 L719.36 411.77 L720.34 411.55 L721.32 411.32 L722.30 411.10 L723.28 410.88 L724.26 410.66 L725.24 410.44 L726.22 410.22 L727.20 410.01 L728.18 409.79 L729.16 409.58 L730.14 409.37 L731.13 409.17 L732.11 408.96 L733.09 408.76 L734.07 408.56 L735.06 408.36 L736.04 408.16 L737.02 407.97 L738.01 407.77 L738.99 407.58 L739.98 407.39 L740.96 407.21 L741.95 407.02 L742.93 406.83 L743.92 406.65 L744.91 406.47 L745.89 406.29 L746.88 406.11 L747.87 405.93 L748.86 405.75 L749.84 405.57 L750.83 405.40 L751.82 405.22 L752.81 405.05 L753.80 404.88 L754.79 404.71 L755.78 404.54 L756.77 404.37 L757.76 404.20 L758.75 404.04 L759.74 403.88 L760.73 403.71 L761.72 403.55 L762.72 403.39 L763.71 403.23 L764.70 403.07 L765.69 402.92 L766.68 402.76 L767.68 402.61 L768.67 402.45 L769.66 402.30 L770.65 402.15 L771.65 402.00 L772.64 401.86 L773.63 401.71 L774.63 401.56 L775.62 401.42 L776.61 401.28 L777.61 401.14 L778.60 401.00 L779.59 400.86 L780.59 400.72 L781.58 400.58 L782.58 400.45 L783.57 400.31 L784.56 400.18 L785.56 400.05 L786.55 399.92 L787.55 399.79 L788.55 399.67 L789.54 399.54 L790.54 399.42 L791.53 399.29 L792.53 399.17 L793.53 399.05 L794.52 398.93 L795.52 398.81 L796.52 398.69 L797.51 398.58 L798.51 398.46 L799.51 398.35 L800.51 398.24 L801.51 398.13 L802.50 398.02 L803.50 397.91 L804.50 397.81 L805.50 397.70" fill="none" stroke="#aa0000" stroke-width="2.90" stroke-linejoin="bevel" stroke-dasharray="12.6 6.6"/>
<path d="M485.00 281.10 L485.48 281.98 L485.97 282.85 L486.45 283.73 L486.93 284.60 L487.42 285.48 L487.90 286.35 L488.39 287.23 L488.87 288.10 L489.36 288.98 L489.84 289.85 L490.33 290.73 L490.82 291.60 L491.31 292.47 L491.80 293.35 L492.28 294.22 L492.77 295.09 L493.26 295.96 L493.75 296.83 L494.24 297.71 L494.74 298.58 L495.23 299.45 L495.72 300.32 L496.21 301.19 L496.70 302.06 L497.20 302.93 L497.69 303.80 L498.18 304.67 L498.68 305.54 L499.17 306.41 L499.67 307.28 L500.16 308.15 L500.66 309.02 L501.16 309.88 L501.65 310.75 L502.15 311.62 L502.65 312.49 L503.14 313.36 L503.64 314.22 L504.14 315.09 L504.64 315.96 L505.14 316.82 L505.64 317.69 L506.14 318.56 L506.64 319.42 L507.14 320.29 L507.64 321.16 L508.14 322.02 L508.64 322.89 L509.14 323.75 L509.64 324.62 L510.14 325.48 L510.64 326.35 L511.15 327.21 L511.65 328.08 L512.15 328.95 L512.65 329.81 L513.16 330.68 L513.66 331.54 L514.16 332.40 L514.67 333.27 L515.17 334.13 L515.68 334.99 L516.19 335.85 L516.70 336.72 L517.21 337.58 L517.72 338.44 L518.23 339.29 L518.75 340.15 L519.26 341.01 L519.78 341.87 L520.30 342.72 L520.82 343.57 L521.34 344.43 L521.86 345.28 L522.39 346.13 L522.92 346.98 L523.45 347.82 L523.98 348.67 L524.52 349.51 L525.06 350.35 L525.60 351.19 L526.14 352.03 L526.69 352.87 L527.24 353.71 L527.78 354.55 L528.33 355.39 L528.88 356.22 L529.43 357.06 L529.98 357.90 L530.53 358.73 L531.08 359.57 L531.63 360.40 L532.17 361.24 L532.72 362.08 L533.27 362.92 L533.81 363.75 L534.36 364.59 L534.90 365.43 L535.44 366.28 L535.98 367.12 L536.51 367.96 L537.05 368.81 L537.58 369.66 L538.11 370.50 L538.64 371.35 L539.17 372.20 L539.70 373.05 L540.23 373.90 L540.76 374.75 L541.29 375.60 L541.81 376.45 L542.34 377.30 L542.86 378.15 L543.39 379.00 L543.91 379.85 L544.44 380.70 L544.96 381.55 L545.49 382.41 L546.01 383.26 L546.53 384.11 L547.06 384.96 L547.58 385.82 L548.10 386.67 L548.62 387.52 L549.15 388.38 L549.67 389.23 L550.19 390.08 L550.72 390.93 L551.24 391.79 L551.76 392.64 L552.29 393.49 L552.81 394.34 L553.33 395.19 L553.86 396.05 L554.38 396.90 L554.91 397.75 L555.43 398.60 L555.96 399.45 L556.48 400.30 L557.00 401.16 L557.53 402.01 L558.05 402.86 L558.58 403.71 L559.10 404.56 L559.62 405.42 L560.15 406.27 L560.67 407.12 L561.19 407.97 L561.72 408.83 L562.24 409.68 L562.76 410.53 L563.28 411.39 L563.80 412.24 L564.32 413.10 L564.84 413.95 L565.36 414.81 L565.88 415.66 L566.40 416.52 L566.92 417.37 L567.43 418.23 L567.95 419.08 L568.46 419.94 L568.98 420.80 L569.49 421.66 L570.00 422.52 L570.97 422.27 L571.95 422.03 L572.92 421.78 L573.90 421.54 L574.87 421.30 L575.85 421.06 L576.82 420.82 L577.80 420.58 L578.78 420.34 L579.75 420.10 L580.73 419.86 L581.71 419.63 L582.68 419.39 L583.66 419.16 L584.64 418.92 L585.61 418.69 L586.59 418.46 L587.57 418.23 L588.55 418.00 L589.52 417.77 L590.50 417.54 L591.48 417.31 L592.46 417.09 L593.44 416.86 L594.42 416.64 L595.40 416.41 L596.38 416.19 L597.35 415.97 L598.33 415.75 L599.31 415.53 L600.29 415.31 L601.27 415.09 L602.25 414.87 L603.23 414.65 L604.22 414.44 L605.20 414.22 L606.18 414.01 L607.16 413.80 L608.14 413.59 L609.12 413.37 L610.10 413.16 L611.08 412.96 L612.07 412.75 L613.05 412.54 L614.03 412.33 L615.01 412.13 L616.00 411.92 L616.98 411.72 L617.96 411.52 L618.94 411.32 L619.93 411.11 L620.91 410.92 L621.90 410.72 L622.88 410.52 L623.86 410.33 L624.85 410.13 L625.83 409.94 L626.82 409.75 L627.81 409.56 L628.79 409.37 L629.78 409.18 L630.76 409.00 L631.75 408.81 L632.74 408.63 L633.73 408.44 L634.71 408.26 L635.70 408.08 L636.69 407.90 L637.68 407.72 L638.67 407.54 L639.65 407.36 L640.64 407.18 L641.63 407.00 L642.62 406.82 L643.61 406.64 L644.60 406.47 L645.58 406.29 L646.57 406.11 L647.56 405.94 L648.55 405.76 L649.54 405.58 L650.53 405.41 L651.52 405.23 L652.51 405.05 L653.50 404.88 L654.48 404.70 L655.47 404.52 L656.46 404.34 L657.45 404.16 L658.44 403.98 L659.43 403.80 L660.41 403.62 L661.40 403.44 L662.39 403.26 L663.38 403.08 L664.36 402.90 L665.35 402.72 L666.34 402.54 L667.33 402.36 L668.31 402.17 L669.30 401.99 L670.29 401.81 L671.28 401.63 L672.27 401.45 L673.25 401.26 L674.24 401.08 L675.23 400.90 L676.22 400.72 L677.20 400.54 L678.19 400.36 L679.18 400.18 L680.17 399.99 L681.16 399.81 L682.14 399.64 L683.13 399.46 L684.12 399.28 L685.11 399.10 L686.10 398.92 L687.09 398.74 L688.07 398.57 L689.06 398.39 L690.05 398.22 L691.04 398.04 L692.03 397.87 L693.02 397.70 L694.01 397.52 L695.00 397.35 L695.99 397.18 L696.98 397.01 L697.97 396.84 L698.96 396.68 L699.95 396.51 L700.94 396.34 L701.93 396.18 L702.92 396.01 L703.91 395.85 L704.90 395.68 L705.89 395.52 L706.88 395.35 L707.87 395.19 L708.86 395.03 L709.85 394.87 L710.84 394.70 L711.83 394.54 L712.83 394.38 L713.82 394.22 L714.81 394.06 L715.80 393.90 L716.79 393.74 L717.78 393.58 L718.78 393.42 L719.77 393.27 L720.76 393.11 L721.75 392.95 L722.74 392.80 L723.74 392.65 L724.73 392.49 L725.72 392.34 L726.71 392.19 L727.71 392.04 L728.70 391.89 L729.69 391.74 L730.69 391.59 L731.68 391.44 L732.67 391.29 L733.67 391.15 L734.66 391.00 L735.65 390.86 L736.65 390.72 L737.64 390.58 L738.64 390.44 L739.63 390.30 L740.62 390.16 L741.62 390.02 L742.61 389.88 L743.61 389.74 L744.60 389.60 L745.60 389.46 L746.59 389.32 L747.59 389.19 L748.58 389.05 L749.58 388.91 L750.57 388.77 L751.57 388.64 L752.56 388.50 L753.56 388.37 L754.55 388.23 L755.55 388.10 L756.54 387.97 L757.54 387.83 L758.54 387.70 L759.53 387.57 L760.53 387.44 L761.53 387.32 L762.52 387.19 L763.52 387.06 L764.52 386.94 L765.51 386.82 L766.51 386.69 L767.51 386.57 L768.50 386.45 L769.50 386.34 L770.50 386.22 L771.50 386.11 L772.49 385.99 L773.49 385.88 L774.49 385.77 L775.49 385.66 L776.48 385.56 L777.48 385.45 L778.48 385.35 L779.48 385.25 L780.48 385.15 L781.48 385.06 L782.48 384.96 L783.48 384.87 L784.48 384.77 L785.48 384.68 L786.47 384.59 L787.47 384.50 L788.48 384.41 L789.48 384.32 L790.48 384.24 L791.48 384.15 L792.48 384.07 L793.48 383.99 L794.48 383.91 L795.48 383.83 L796.48 383.75 L797.48 383.67 L798.49 383.59 L799.49 383.52 L800.49 383.45 L801.49 383.37 L802.49 383.30 L803.50 383.23 L804.50 383.17 L805.50 383.10" fill="none" stroke="#0000ff" stroke-width="2.90" stroke-linejoin="bevel" stroke-dasharray="8 3.3 3.4 3.3" stroke-dashoffset="2.0"/>
<path d="M485.00 301.30 L485.41 302.22 L485.82 303.13 L486.23 304.05 L486.64 304.96 L487.06 305.88 L487.47 306.79 L487.89 307.70 L488.31 308.62 L488.73 309.53 L489.16 310.44 L489.58 311.35 L490.01 312.25 L490.43 313.16 L490.86 314.07 L491.30 314.97 L491.73 315.88 L492.16 316.78 L492.60 317.69 L493.04 318.59 L493.47 319.49 L493.91 320.39 L494.36 321.29 L494.80 322.19 L495.24 323.09 L495.69 323.99 L496.14 324.88 L496.59 325.78 L497.04 326.67 L497.50 327.57 L497.96 328.46 L498.42 329.35 L498.88 330.24 L499.34 331.14 L499.80 332.03 L500.27 332.91 L500.74 333.80 L501.20 334.69 L501.67 335.58 L502.15 336.46 L502.62 337.35 L503.09 338.23 L503.57 339.12 L504.04 340.00 L504.52 340.88 L505.00 341.76 L505.48 342.65 L505.96 343.53 L506.44 344.41 L506.92 345.29 L507.41 346.16 L507.89 347.04 L508.38 347.92 L508.87 348.79 L509.36 349.67 L509.85 350.54 L510.35 351.41 L510.84 352.29 L511.34 353.16 L511.84 354.03 L512.34 354.90 L512.84 355.77 L513.34 356.64 L513.84 357.51 L514.35 358.37 L514.85 359.24 L515.35 360.11 L515.85 360.98 L516.36 361.85 L516.86 362.72 L517.36 363.58 L517.87 364.45 L518.37 365.32 L518.87 366.19 L519.38 367.06 L519.88 367.92 L520.38 368.79 L520.89 369.66 L521.39 370.52 L521.90 371.39 L522.41 372.26 L522.91 373.12 L523.42 373.99 L523.93 374.85 L524.44 375.72 L524.95 376.58 L525.46 377.45 L525.97 378.31 L526.48 379.17 L526.99 380.04 L527.50 380.90 L528.50 380.84 L529.50 380.77 L530.50 380.71 L531.51 380.64 L532.51 380.57 L533.51 380.51 L534.51 380.44 L535.51 380.37 L536.51 380.30 L537.51 380.23 L538.51 380.16 L539.51 380.09 L540.51 380.02 L541.52 379.95 L542.52 379.87 L543.52 379.80 L544.52 379.73 L545.52 379.65 L546.52 379.58 L547.52 379.50 L548.52 379.43 L549.52 379.35 L550.52 379.27 L551.52 379.19 L552.52 379.12 L553.52 379.04 L554.52 378.96 L555.52 378.88 L556.52 378.80 L557.52 378.72 L558.52 378.64 L559.52 378.56 L560.52 378.47 L561.52 378.39 L562.52 378.31 L563.52 378.23 L564.52 378.14 L565.52 378.06 L566.52 377.97 L567.52 377.89 L568.52 377.80 L569.52 377.72 L570.52 377.63 L571.52 377.55 L572.52 377.46 L573.52 377.37 L574.51 377.29 L575.51 377.20 L576.51 377.11 L577.51 377.02 L578.51 376.93 L579.51 376.85 L580.51 376.76 L581.51 376.67 L582.51 376.58 L583.51 376.49 L584.51 376.40 L585.51 376.31 L586.50 376.22 L587.50 376.13 L588.50 376.04 L589.50 375.95 L590.50 375.85 L591.50 375.76 L592.50 375.66 L593.50 375.57 L594.49 375.47 L595.49 375.36 L596.49 375.26 L597.49 375.16 L598.49 375.05 L599.48 374.95 L600.48 374.85 L601.48 374.74 L602.48 374.64 L603.48 374.54 L604.47 374.44 L605.47 374.34 L606.47 374.25 L607.47 374.15 L608.47 374.05 L609.47 373.96 L610.47 373.86 L611.46 373.76 L612.46 373.67 L613.46 373.57 L614.46 373.48 L615.46 373.38 L616.46 373.29 L617.46 373.19 L618.45 373.10 L619.45 373.00 L620.45 372.91 L621.45 372.81 L622.45 372.72 L623.45 372.62 L624.45 372.53 L625.45 372.44 L626.45 372.34 L627.44 372.25 L628.44 372.16 L629.44 372.07 L630.44 371.97 L631.44 371.88 L632.44 371.79 L633.44 371.70 L634.44 371.61 L635.44 371.52 L636.44 371.42 L637.43 371.33 L638.43 371.24 L639.43 371.15 L640.43 371.06 L641.43 370.97 L642.43 370.88 L643.43 370.79 L644.43 370.70 L645.43 370.61 L646.43 370.52 L647.43 370.43 L648.43 370.34 L649.42 370.25 L650.42 370.17 L651.42 370.08 L652.42 369.99 L653.42 369.90 L654.42 369.81 L655.42 369.72 L656.42 369.64 L657.42 369.55 L658.42 369.46 L659.42 369.37 L660.42 369.29 L661.42 369.20 L662.42 369.11 L663.42 369.03 L664.42 368.94 L665.41 368.85 L666.41 368.77 L667.41 368.68 L668.41 368.60 L669.41 368.51 L670.41 368.43 L671.41 368.34 L672.41 368.26 L673.41 368.17 L674.41 368.09 L675.41 368.01 L676.41 367.92 L677.41 367.84 L678.41 367.76 L679.41 367.67 L680.41 367.59 L681.41 367.51 L682.41 367.43 L683.41 367.34 L684.41 367.26 L685.41 367.18 L686.41 367.10 L687.41 367.02 L688.41 366.93 L689.41 366.85 L690.41 366.77 L691.41 366.69 L692.41 366.61 L693.41 366.53 L694.41 366.44 L695.41 366.36 L696.41 366.28 L697.41 366.20 L698.41 366.12 L699.41 366.04 L700.41 365.96 L701.41 365.88 L702.41 365.80 L703.41 365.72 L704.41 365.64 L705.41 365.56 L706.41 365.48 L707.41 365.41 L708.41 365.33 L709.41 365.25 L710.41 365.17 L711.41 365.09 L712.41 365.02 L713.41 364.94 L714.41 364.86 L715.41 364.79 L716.41 364.71 L717.41 364.63 L718.41 364.56 L719.41 364.48 L720.41 364.41 L721.41 364.33 L722.41 364.26 L723.41 364.18 L724.41 364.11 L725.41 364.03 L726.41 363.96 L727.42 363.89 L728.42 363.81 L729.42 363.74 L730.42 363.67 L731.42 363.60 L732.42 363.53 L733.42 363.46 L734.42 363.39 L735.42 363.32 L736.42 363.25 L737.42 363.18 L738.42 363.11 L739.42 363.04 L740.42 362.97 L741.43 362.90 L742.43 362.83 L743.43 362.77 L744.43 362.70 L745.43 362.63 L746.43 362.57 L747.43 362.50 L748.43 362.43 L749.43 362.37 L750.43 362.30 L751.44 362.23 L752.44 362.17 L753.44 362.10 L754.44 362.04 L755.44 361.97 L756.44 361.91 L757.44 361.84 L758.44 361.78 L759.44 361.71 L760.45 361.65 L761.45 361.58 L762.45 361.52 L763.45 361.45 L764.45 361.39 L765.45 361.32 L766.45 361.26 L767.45 361.19 L768.45 361.13 L769.46 361.06 L770.46 361.00 L771.46 360.93 L772.46 360.87 L773.46 360.81 L774.46 360.74 L775.46 360.68 L776.46 360.61 L777.46 360.55 L778.47 360.49 L779.47 360.42 L780.47 360.36 L781.47 360.29 L782.47 360.23 L783.47 360.17 L784.47 360.10 L785.47 360.04 L786.48 359.98 L787.48 359.91 L788.48 359.85 L789.48 359.79 L790.48 359.73 L791.48 359.66 L792.48 359.60 L793.48 359.54 L794.49 359.48 L795.49 359.42 L796.49 359.35 L797.49 359.29 L798.49 359.23 L799.49 359.17 L800.49 359.11 L801.49 359.04 L802.50 358.98 L803.50 358.92 L804.50 358.86 L805.50 358.80" fill="none" stroke="#996633" stroke-width="2.90" stroke-linejoin="bevel" stroke-dasharray="4.7 3.3" stroke-dashoffset="1.5"/>
<path d="M485.00 324.00 L485.43 324.91 L485.87 325.81 L486.31 326.72 L486.75 327.62 L487.19 328.52 L487.63 329.43 L488.07 330.33 L488.52 331.23 L488.97 332.13 L489.42 333.03 L489.87 333.92 L490.32 334.82 L490.77 335.72 L491.22 336.61 L491.68 337.51 L492.14 338.40 L492.59 339.30 L493.05 340.19 L493.51 341.09 L493.97 341.98 L494.43 342.87 L494.90 343.76 L495.36 344.65 L495.82 345.54 L496.29 346.43 L496.76 347.32 L497.23 348.21 L497.70 349.09 L498.18 349.98 L498.66 350.86 L499.14 351.74 L499.62 352.63 L500.10 353.51 L501.10 353.49 L502.10 353.47 L503.11 353.45 L504.11 353.44 L505.11 353.42 L506.11 353.40 L507.12 353.38 L508.12 353.36 L509.12 353.33 L510.12 353.31 L511.12 353.29 L512.13 353.27 L513.13 353.24 L514.13 353.22 L515.13 353.20 L516.13 353.17 L517.14 353.15 L518.14 353.12 L519.14 353.10 L520.14 353.07 L521.14 353.04 L522.15 353.02 L523.15 352.99 L524.15 352.96 L525.15 352.94 L526.15 352.91 L527.16 352.88 L528.16 352.85 L529.16 352.82 L530.16 352.79 L531.16 352.76 L532.17 352.73 L533.17 352.70 L534.17 352.67 L535.17 352.64 L536.17 352.61 L537.17 352.58 L538.18 352.54 L539.18 352.51 L540.18 352.48 L541.18 352.45 L542.18 352.41 L543.19 352.38 L544.19 352.35 L545.19 352.31 L546.19 352.28 L547.19 352.24 L548.19 352.21 L549.19 352.17 L550.20 352.14 L551.20 352.10 L552.20 352.07 L553.20 352.03 L554.20 352.00 L555.20 351.96 L556.21 351.92 L557.21 351.89 L558.21 351.85 L559.21 351.81 L560.21 351.78 L561.21 351.74 L562.21 351.70 L563.22 351.67 L564.22 351.63 L565.22 351.59 L566.22 351.55 L567.22 351.51 L568.22 351.47 L569.22 351.43 L570.23 351.39 L571.23 351.35 L572.23 351.30 L573.23 351.26 L574.23 351.21 L575.23 351.17 L576.23 351.12 L577.23 351.07 L578.24 351.02 L579.24 350.98 L580.24 350.93 L581.24 350.88 L582.24 350.83 L583.24 350.78 L584.24 350.73 L585.24 350.67 L586.24 350.62 L587.24 350.57 L588.25 350.52 L589.25 350.47 L590.25 350.41 L591.25 350.36 L592.25 350.31 L593.25 350.26 L594.25 350.20 L595.25 350.15 L596.25 350.10 L597.25 350.05 L598.26 349.99 L599.26 349.94 L600.26 349.89 L601.26 349.84 L602.26 349.79 L603.26 349.73 L604.26 349.68 L605.26 349.63 L606.26 349.58 L607.26 349.52 L608.26 349.47 L609.26 349.41 L610.27 349.36 L611.27 349.30 L612.27 349.25 L613.27 349.19 L614.27 349.14 L615.27 349.08 L616.27 349.02 L617.27 348.97 L618.27 348.91 L619.27 348.85 L620.27 348.80 L621.27 348.74 L622.27 348.69 L623.27 348.63 L624.28 348.57 L625.28 348.52 L626.28 348.46 L627.28 348.41 L628.28 348.35 L629.28 348.30 L630.28 348.24 L631.28 348.19 L632.28 348.14 L633.28 348.08 L634.28 348.03 L635.28 347.98 L636.29 347.93 L637.29 347.88 L638.29 347.83 L639.29 347.78 L640.29 347.73 L641.29 347.69 L642.29 347.64 L643.29 347.59 L644.29 347.54 L645.30 347.50 L646.30 347.45 L647.30 347.41 L648.30 347.36 L649.30 347.32 L650.30 347.27 L651.30 347.23 L652.30 347.19 L653.31 347.14 L654.31 347.10 L655.31 347.06 L656.31 347.01 L657.31 346.97 L658.31 346.93 L659.31 346.88 L660.32 346.84 L661.32 346.80 L662.32 346.76 L663.32 346.71 L664.32 346.67 L665.32 346.63 L666.32 346.58 L667.32 346.54 L668.33 346.50 L669.33 346.45 L670.33 346.41 L671.33 346.37 L672.33 346.32 L673.33 346.28 L674.33 346.23 L675.33 346.18 L676.34 346.14 L677.34 346.09 L678.34 346.05 L679.34 346.00 L680.34 345.95 L681.34 345.91 L682.34 345.86 L683.34 345.81 L684.35 345.77 L685.35 345.72 L686.35 345.67 L687.35 345.63 L688.35 345.58 L689.35 345.53 L690.35 345.49 L691.35 345.44 L692.35 345.39 L693.36 345.34 L694.36 345.30 L695.36 345.25 L696.36 345.20 L697.36 345.15 L698.36 345.11 L699.36 345.06 L700.36 345.01 L701.37 344.96 L702.37 344.91 L703.37 344.87 L704.37 344.82 L705.37 344.77 L706.37 344.72 L707.37 344.67 L708.37 344.63 L709.37 344.58 L710.38 344.53 L711.38 344.48 L712.38 344.43 L713.38 344.39 L714.38 344.34 L715.38 344.29 L716.38 344.24 L717.38 344.20 L718.38 344.15 L719.39 344.10 L720.39 344.05 L721.39 344.01 L722.39 343.96 L723.39 343.91 L724.39 343.86 L725.39 343.82 L726.39 343.77 L727.39 343.72 L728.40 343.68 L729.40 343.63 L730.40 343.58 L731.40 343.53 L732.40 343.49 L733.40 343.44 L734.40 343.39 L735.40 343.35 L736.40 343.30 L737.41 343.25 L738.41 343.20 L739.41 343.15 L740.41 343.11 L741.41 343.06 L742.41 343.01 L743.41 342.96 L744.41 342.92 L745.42 342.87 L746.42 342.82 L747.42 342.77 L748.42 342.72 L749.42 342.68 L750.42 342.63 L751.42 342.58 L752.42 342.54 L753.42 342.49 L754.43 342.44 L755.43 342.40 L756.43 342.35 L757.43 342.30 L758.43 342.26 L759.43 342.21 L760.43 342.17 L761.43 342.12 L762.44 342.08 L763.44 342.03 L764.44 341.99 L765.44 341.95 L766.44 341.90 L767.44 341.86 L768.44 341.82 L769.44 341.78 L770.45 341.74 L771.45 341.69 L772.45 341.65 L773.45 341.61 L774.45 341.57 L775.45 341.53 L776.45 341.49 L777.46 341.45 L778.46 341.41 L779.46 341.37 L780.46 341.33 L781.46 341.29 L782.46 341.25 L783.46 341.21 L784.47 341.17 L785.47 341.13 L786.47 341.09 L787.47 341.06 L788.47 341.02 L789.47 340.98 L790.48 340.94 L791.48 340.90 L792.48 340.87 L793.48 340.83 L794.48 340.79 L795.48 340.76 L796.49 340.72 L797.49 340.68 L798.49 340.65 L799.49 340.61 L800.49 340.57 L801.49 340.54 L802.49 340.50 L803.50 340.47 L804.50 340.43 L805.50 340.40" fill="none" stroke="#00ff00" stroke-width="2.90" stroke-linejoin="bevel" stroke-dasharray="4.7 3.3" stroke-dashoffset="2.6"/>
</g>
<text transform="translate(232.30 31.70) scale(1 0.930)" text-anchor="start">cross−over smooth</text>
<text transform="translate(676.70 31.70) scale(1 0.930)" text-anchor="start">cross−over sharp</text>
<text transform="translate(232.30 296.60) scale(1 0.930)" text-anchor="start">CP (143,350)</text>
<text transform="translate(660.80 296.60) scale(1 0.930)" text-anchor="start">CP (89,724)</text>
<path d="M557 23.40H591.6" stroke="#000000" stroke-width="2.90"/>
<text transform="translate(594.50 27.30) scale(1 0.930)" text-anchor="start"><tspan font-style="italic">μ</tspan><tspan font-style="italic" font-size="9.2" dy="2.3">B</tspan><tspan dy="-1.3">=</tspan><tspan dy="-1.0">0 MeV</tspan></text>
<path d="M557 43.40H591.6" stroke="#aa0000" stroke-width="2.90" stroke-dasharray="12.6 6.6"/>
<text transform="translate(594.50 47.30) scale(1 0.930)" text-anchor="start"><tspan font-style="italic">μ</tspan><tspan font-style="italic" font-size="9.2" dy="2.3">B</tspan><tspan dy="-1.3">=</tspan><tspan dy="-1.0">200 MeV</tspan></text>
<path d="M557 63.20H591.6" stroke="#0000ff" stroke-width="2.90" stroke-dasharray="8 3.3 3.4 3.3"/>
<text transform="translate(594.50 67.10) scale(1 0.930)" text-anchor="start"><tspan font-style="italic">μ</tspan><tspan font-style="italic" font-size="9.2" dy="2.3">B</tspan><tspan dy="-1.3">=</tspan><tspan dy="-1.0">400 MeV</tspan></text>
<path d="M557 82.90H586.5" stroke="#996633" stroke-width="2.90" stroke-dasharray="4.7 3.3"/>
<text transform="translate(594.50 86.80) scale(1 0.930)" text-anchor="start"><tspan font-style="italic">μ</tspan><tspan font-style="italic" font-size="9.2" dy="2.3">B</tspan><tspan dy="-1.3">=</tspan><tspan dy="-1.0">600 MeV</tspan></text>
<path d="M557 102.70H586.5" stroke="#00ff00" stroke-width="2.90" stroke-dasharray="4.7 3.3"/>
<text transform="translate(594.50 106.60) scale(1 0.930)" text-anchor="start"><tspan font-style="italic">μ</tspan><tspan font-style="italic" font-size="9.2" dy="2.3">B</tspan><tspan dy="-1.3">=</tspan><tspan dy="-1.0">700 MeV</tspan></text>
</svg>
</body></html>
